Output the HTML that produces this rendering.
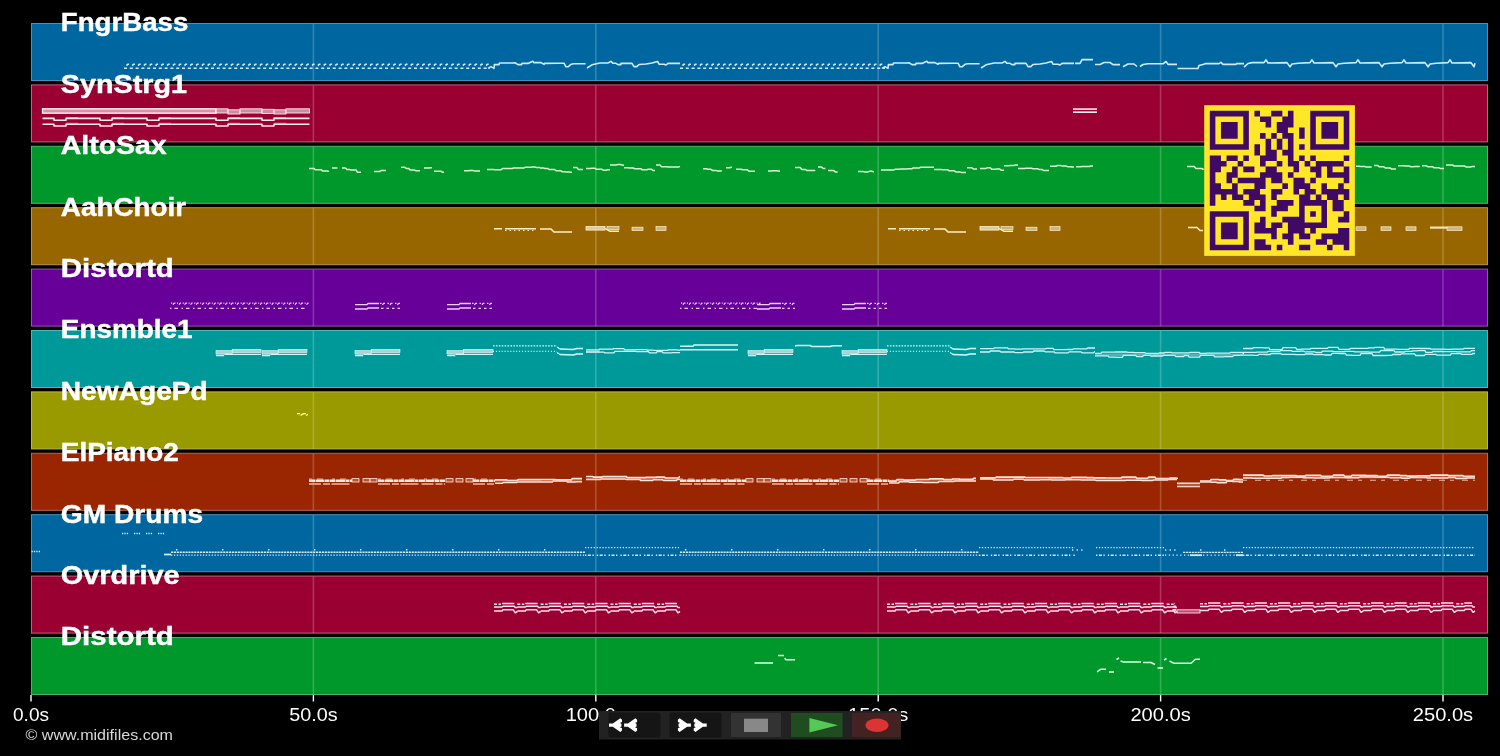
<!DOCTYPE html><html><head><meta charset="utf-8"><style>html,body{margin:0;padding:0;background:#000;width:1500px;height:756px;overflow:hidden}svg{display:block;will-change:transform}</style></head><body>
<svg width="1500" height="756" viewBox="0 0 1500 756">
<rect x="0" y="0" width="1500" height="756" fill="#000"/>
<rect x="31.5" y="23.50" width="1456" height="57" fill="#00669f" stroke="#4d8fba" stroke-width="1"/>
<rect x="312.60" y="24.00" width="1.6" height="56.4" fill="#fff" fill-opacity="0.2"/>
<rect x="595.00" y="24.00" width="1.6" height="56.4" fill="#fff" fill-opacity="0.2"/>
<rect x="877.40" y="24.00" width="1.6" height="56.4" fill="#fff" fill-opacity="0.2"/>
<rect x="1159.80" y="24.00" width="1.6" height="56.4" fill="#fff" fill-opacity="0.2"/>
<rect x="1442.20" y="24.00" width="1.6" height="56.4" fill="#fff" fill-opacity="0.2"/>
<rect x="31.5" y="84.90" width="1456" height="57" fill="#9b0033" stroke="#c0607f" stroke-width="1"/>
<rect x="312.60" y="85.40" width="1.6" height="56.4" fill="#fff" fill-opacity="0.2"/>
<rect x="595.00" y="85.40" width="1.6" height="56.4" fill="#fff" fill-opacity="0.2"/>
<rect x="877.40" y="85.40" width="1.6" height="56.4" fill="#fff" fill-opacity="0.2"/>
<rect x="1159.80" y="85.40" width="1.6" height="56.4" fill="#fff" fill-opacity="0.2"/>
<rect x="1442.20" y="85.40" width="1.6" height="56.4" fill="#fff" fill-opacity="0.2"/>
<rect x="31.5" y="146.30" width="1456" height="57" fill="#00982b" stroke="#4db46b" stroke-width="1"/>
<rect x="312.60" y="146.80" width="1.6" height="56.4" fill="#fff" fill-opacity="0.2"/>
<rect x="595.00" y="146.80" width="1.6" height="56.4" fill="#fff" fill-opacity="0.2"/>
<rect x="877.40" y="146.80" width="1.6" height="56.4" fill="#fff" fill-opacity="0.2"/>
<rect x="1159.80" y="146.80" width="1.6" height="56.4" fill="#fff" fill-opacity="0.2"/>
<rect x="1442.20" y="146.80" width="1.6" height="56.4" fill="#fff" fill-opacity="0.2"/>
<rect x="31.5" y="207.70" width="1456" height="57" fill="#986600" stroke="#b79447" stroke-width="1"/>
<rect x="312.60" y="208.20" width="1.6" height="56.4" fill="#fff" fill-opacity="0.2"/>
<rect x="595.00" y="208.20" width="1.6" height="56.4" fill="#fff" fill-opacity="0.2"/>
<rect x="877.40" y="208.20" width="1.6" height="56.4" fill="#fff" fill-opacity="0.2"/>
<rect x="1159.80" y="208.20" width="1.6" height="56.4" fill="#fff" fill-opacity="0.2"/>
<rect x="1442.20" y="208.20" width="1.6" height="56.4" fill="#fff" fill-opacity="0.2"/>
<rect x="31.5" y="269.10" width="1456" height="57" fill="#660099" stroke="#9650b8" stroke-width="1"/>
<rect x="312.60" y="269.60" width="1.6" height="56.4" fill="#fff" fill-opacity="0.2"/>
<rect x="595.00" y="269.60" width="1.6" height="56.4" fill="#fff" fill-opacity="0.2"/>
<rect x="877.40" y="269.60" width="1.6" height="56.4" fill="#fff" fill-opacity="0.2"/>
<rect x="1159.80" y="269.60" width="1.6" height="56.4" fill="#fff" fill-opacity="0.2"/>
<rect x="1442.20" y="269.60" width="1.6" height="56.4" fill="#fff" fill-opacity="0.2"/>
<rect x="31.5" y="330.50" width="1456" height="57" fill="#009999" stroke="#4db8b8" stroke-width="1"/>
<rect x="312.60" y="331.00" width="1.6" height="56.4" fill="#fff" fill-opacity="0.2"/>
<rect x="595.00" y="331.00" width="1.6" height="56.4" fill="#fff" fill-opacity="0.2"/>
<rect x="877.40" y="331.00" width="1.6" height="56.4" fill="#fff" fill-opacity="0.2"/>
<rect x="1159.80" y="331.00" width="1.6" height="56.4" fill="#fff" fill-opacity="0.2"/>
<rect x="1442.20" y="331.00" width="1.6" height="56.4" fill="#fff" fill-opacity="0.2"/>
<rect x="31.5" y="391.90" width="1456" height="57" fill="#999900" stroke="#b8b84d" stroke-width="1"/>
<rect x="312.60" y="392.40" width="1.6" height="56.4" fill="#fff" fill-opacity="0.2"/>
<rect x="595.00" y="392.40" width="1.6" height="56.4" fill="#fff" fill-opacity="0.2"/>
<rect x="877.40" y="392.40" width="1.6" height="56.4" fill="#fff" fill-opacity="0.2"/>
<rect x="1159.80" y="392.40" width="1.6" height="56.4" fill="#fff" fill-opacity="0.2"/>
<rect x="1442.20" y="392.40" width="1.6" height="56.4" fill="#fff" fill-opacity="0.2"/>
<rect x="31.5" y="453.30" width="1456" height="57" fill="#992600" stroke="#b8674d" stroke-width="1"/>
<rect x="312.60" y="453.80" width="1.6" height="56.4" fill="#fff" fill-opacity="0.2"/>
<rect x="595.00" y="453.80" width="1.6" height="56.4" fill="#fff" fill-opacity="0.2"/>
<rect x="877.40" y="453.80" width="1.6" height="56.4" fill="#fff" fill-opacity="0.2"/>
<rect x="1159.80" y="453.80" width="1.6" height="56.4" fill="#fff" fill-opacity="0.2"/>
<rect x="1442.20" y="453.80" width="1.6" height="56.4" fill="#fff" fill-opacity="0.2"/>
<rect x="31.5" y="514.70" width="1456" height="57" fill="#00669f" stroke="#4d8fba" stroke-width="1"/>
<rect x="312.60" y="515.20" width="1.6" height="56.4" fill="#fff" fill-opacity="0.2"/>
<rect x="595.00" y="515.20" width="1.6" height="56.4" fill="#fff" fill-opacity="0.2"/>
<rect x="877.40" y="515.20" width="1.6" height="56.4" fill="#fff" fill-opacity="0.2"/>
<rect x="1159.80" y="515.20" width="1.6" height="56.4" fill="#fff" fill-opacity="0.2"/>
<rect x="1442.20" y="515.20" width="1.6" height="56.4" fill="#fff" fill-opacity="0.2"/>
<rect x="31.5" y="576.10" width="1456" height="57" fill="#9b0033" stroke="#c0607f" stroke-width="1"/>
<rect x="312.60" y="576.60" width="1.6" height="56.4" fill="#fff" fill-opacity="0.2"/>
<rect x="595.00" y="576.60" width="1.6" height="56.4" fill="#fff" fill-opacity="0.2"/>
<rect x="877.40" y="576.60" width="1.6" height="56.4" fill="#fff" fill-opacity="0.2"/>
<rect x="1159.80" y="576.60" width="1.6" height="56.4" fill="#fff" fill-opacity="0.2"/>
<rect x="1442.20" y="576.60" width="1.6" height="56.4" fill="#fff" fill-opacity="0.2"/>
<rect x="31.5" y="637.50" width="1456" height="57" fill="#00982b" stroke="#4db46b" stroke-width="1"/>
<rect x="312.60" y="638.00" width="1.6" height="56.4" fill="#fff" fill-opacity="0.2"/>
<rect x="595.00" y="638.00" width="1.6" height="56.4" fill="#fff" fill-opacity="0.2"/>
<rect x="877.40" y="638.00" width="1.6" height="56.4" fill="#fff" fill-opacity="0.2"/>
<rect x="1159.80" y="638.00" width="1.6" height="56.4" fill="#fff" fill-opacity="0.2"/>
<rect x="1442.20" y="638.00" width="1.6" height="56.4" fill="#fff" fill-opacity="0.2"/>
<g>
<line x1="124" y1="68.3" x2="490" y2="68.3" stroke="#cfeaff" stroke-width="1.5" stroke-dasharray="3 2.8" stroke-dashoffset="0" stroke-opacity="1.0"/><path d="M126.5 65.6L127.7 64.3H129.1M132.3 65.6L133.5 64.3H134.9M138.1 65.6L139.3 64.3H140.7M143.9 65.6L145.1 64.3H146.5M149.7 65.6L150.9 64.3H152.3M155.5 65.6L156.7 64.3H158.1M161.3 65.6L162.5 64.3H163.9M167.1 65.6L168.3 64.3H169.7M172.9 65.6L174.1 64.3H175.5M178.7 65.6L179.9 64.3H181.3M184.5 65.6L185.7 64.3H187.1M190.3 65.6L191.5 64.3H192.9M196.1 65.6L197.3 64.3H198.7M201.9 65.6L203.1 64.3H204.5M207.7 65.6L208.9 64.3H210.3M213.5 65.6L214.7 64.3H216.1M219.3 65.6L220.5 64.3H221.9M225.1 65.6L226.3 64.3H227.7M230.9 65.6L232.1 64.3H233.5M236.7 65.6L237.9 64.3H239.3M242.5 65.6L243.7 64.3H245.1M248.3 65.6L249.5 64.3H250.9M254.1 65.6L255.3 64.3H256.7M259.9 65.6L261.1 64.3H262.5M265.7 65.6L266.9 64.3H268.3M271.5 65.6L272.7 64.3H274.1M277.3 65.6L278.5 64.3H279.9M283.1 65.6L284.3 64.3H285.7M288.9 65.6L290.1 64.3H291.5M294.7 65.6L295.9 64.3H297.3M300.5 65.6L301.7 64.3H303.1M306.3 65.6L307.5 64.3H308.9M312.1 65.6L313.3 64.3H314.7M317.9 65.6L319.1 64.3H320.5M323.7 65.6L324.9 64.3H326.3M329.5 65.6L330.7 64.3H332.1M335.3 65.6L336.5 64.3H337.9M341.1 65.6L342.3 64.3H343.7M346.9 65.6L348.1 64.3H349.5M352.7 65.6L353.9 64.3H355.3M358.5 65.6L359.7 64.3H361.1M364.3 65.6L365.5 64.3H366.9M370.1 65.6L371.3 64.3H372.7M375.9 65.6L377.1 64.3H378.5M381.7 65.6L382.9 64.3H384.3M387.5 65.6L388.7 64.3H390.1M393.3 65.6L394.5 64.3H395.9M399.1 65.6L400.3 64.3H401.7M404.9 65.6L406.1 64.3H407.5M410.7 65.6L411.9 64.3H413.3M416.5 65.6L417.7 64.3H419.1M422.3 65.6L423.5 64.3H424.9M428.1 65.6L429.3 64.3H430.7M433.9 65.6L435.1 64.3H436.5M439.7 65.6L440.9 64.3H442.3M445.5 65.6L446.7 64.3H448.1M451.3 65.6L452.5 64.3H453.9M457.1 65.6L458.3 64.3H459.7M462.9 65.6L464.1 64.3H465.5M468.7 65.6L469.9 64.3H471.3M474.5 65.6L475.7 64.3H477.1M480.3 65.6L481.5 64.3H482.9M486.1 65.6L487.3 64.3H488.7" stroke="#cfeaff" stroke-width="1.6" fill="none" stroke-opacity="1.0" stroke-linecap="butt" stroke-linejoin="round"/><line x1="680" y1="68.3" x2="885" y2="68.3" stroke="#cfeaff" stroke-width="1.5" stroke-dasharray="3 2.8" stroke-dashoffset="0" stroke-opacity="1.0"/><path d="M682.5 65.6L683.7 64.3H685.1M688.3 65.6L689.5 64.3H690.9M694.1 65.6L695.3 64.3H696.7M699.9 65.6L701.1 64.3H702.5M705.7 65.6L706.9 64.3H708.3M711.5 65.6L712.7 64.3H714.1M717.3 65.6L718.5 64.3H719.9M723.1 65.6L724.3 64.3H725.7M728.9 65.6L730.1 64.3H731.5M734.7 65.6L735.9 64.3H737.3M740.5 65.6L741.7 64.3H743.1M746.3 65.6L747.5 64.3H748.9M752.1 65.6L753.3 64.3H754.7M757.9 65.6L759.1 64.3H760.5M763.7 65.6L764.9 64.3H766.3M769.5 65.6L770.7 64.3H772.1M775.3 65.6L776.5 64.3H777.9M781.1 65.6L782.3 64.3H783.7M786.9 65.6L788.1 64.3H789.5M792.7 65.6L793.9 64.3H795.3M798.5 65.6L799.7 64.3H801.1M804.3 65.6L805.5 64.3H806.9M810.1 65.6L811.3 64.3H812.7M815.9 65.6L817.1 64.3H818.5M821.7 65.6L822.9 64.3H824.3M827.5 65.6L828.7 64.3H830.1M833.3 65.6L834.5 64.3H835.9M839.1 65.6L840.3 64.3H841.7M844.9 65.6L846.1 64.3H847.5M850.7 65.6L851.9 64.3H853.3M856.5 65.6L857.7 64.3H859.1M862.3 65.6L863.5 64.3H864.9M868.1 65.6L869.3 64.3H870.7M873.9 65.6L875.1 64.3H876.5M879.7 65.6L880.9 64.3H882.3" stroke="#cfeaff" stroke-width="1.6" fill="none" stroke-opacity="1.0" stroke-linecap="butt" stroke-linejoin="round"/><path d="M488 68.4L491 66.6L494 68.4L494.4 64.6L499 64.6L499.5 63L512 63L515 62.8L518 64.6L521.6 64.6L522 63.4L528 63.4L532.8 61.3L534 62.6L541 62.6L544 64.3L544.5 63.4L558 63.2L564 63.2L566 66.8L568 66.8L571 64.3L574 63.8L585.6 63.8" stroke="#cfeaff" stroke-width="1.6" fill="none" stroke-opacity="1.0" stroke-linecap="butt" stroke-linejoin="round"/><path d="M587 68L592 64.8L600 63L608 63L611 61.4L613 63.3L616 63.3L618 64.6L620.8 64.6L621 63.4L632 63.4L634 66.6L636.8 66.6L639 64.5L646 64L652 63L657.6 61.4L659 64.2L664 64.2L666 65L668 63.4L680 63.4" stroke="#cfeaff" stroke-width="1.6" fill="none" stroke-opacity="1.0" stroke-linecap="butt" stroke-linejoin="round"/><path d="M882 68.4L885 66.6L888 68.4L888.4 64.6L893 64.6L893.5 63L906 63L909 62.8L912 64.6L915.6 64.6L916 63.4L922 63.4L926.8 61.3L928 62.6L935 62.6L938 64.3L938.5 63.4L952 63.2L958 63.2L960 66.8L962 66.8L965 64.3L968 63.8L979.6 63.8" stroke="#cfeaff" stroke-width="1.6" fill="none" stroke-opacity="1.0" stroke-linecap="butt" stroke-linejoin="round"/><path d="M981 68L986 64.8L994 63L1002 63L1005 61.4L1007 63.3L1010 63.3L1012 64.6L1014.8 64.6L1015 63.4L1026 63.4L1028 66.6L1030.8 66.6L1033 64.5L1040 64L1046 63L1051.6 61.4L1053 64.2L1058 64.2L1060 65L1062 63.4L1074 63.4" stroke="#cfeaff" stroke-width="1.6" fill="none" stroke-opacity="1.0" stroke-linecap="butt" stroke-linejoin="round"/><path d="M1075 63.4L1080 63.4L1082 59.6L1093 59.6" stroke="#cfeaff" stroke-width="1.6" fill="none" stroke-opacity="1.0" stroke-linecap="butt" stroke-linejoin="round"/><path d="M1095 64.5L1100 64.5L1104 62.5L1110 62.5L1113 64.6L1120 64.6" stroke="#cfeaff" stroke-width="1.6" fill="none" stroke-opacity="1.0" stroke-linecap="butt" stroke-linejoin="round"/><path d="M1123 66.8L1128 64L1134 64L1137 66.5" stroke="#cfeaff" stroke-width="1.6" fill="none" stroke-opacity="1.0" stroke-linecap="butt" stroke-linejoin="round"/><path d="M1140 66.5L1143 64.5L1148 63.8L1163 63.8L1166 61.5L1168 64.4L1177 64.4" stroke="#cfeaff" stroke-width="1.6" fill="none" stroke-opacity="1.0" stroke-linecap="butt" stroke-linejoin="round"/><path d="M1177.5 68.5L1198 68.5L1199 65.5L1204 64.3L1205 63.6L1219 63.6L1221 62.4L1223 64.4L1236 64.4L1236.5 63.6L1244 63.6" stroke="#cfeaff" stroke-width="1.6" fill="none" stroke-opacity="1.0" stroke-linecap="butt" stroke-linejoin="round"/><path d="M1244 67.2L1248 63.5L1252 62.6L1264 62.6L1266 59.8L1268 63L1287 62.6L1290 66.8L1292 64L1298 63.2L1310 62.6L1312 59.8L1314 63L1333 62.6L1336 66.8L1338 64L1344 63.2L1356 62.6L1358 59.8L1360 63L1379 62.6L1382 66.8L1384 64L1390 63.2L1402 62.6L1404 59.8L1406 63L1425 62.6L1428 66.8L1430 64L1436 63.2L1448 62.6L1450 59.8L1452 63L1471 62.6L1474 66.8L1475 63.2" stroke="#cfeaff" stroke-width="1.6" fill="none" stroke-opacity="1.0" stroke-linecap="butt" stroke-linejoin="round"/><rect x="42.5" y="108.8" width="173.5" height="4.4" fill="#f0c0cc" fill-opacity="0.75" stroke="#ffffff" stroke-width="1.3"/><rect x="216" y="108.8" width="12" height="4.2" fill="#d8b0bc" fill-opacity="0.8" stroke="#ffe8ef" stroke-width="0.9"/><rect x="228" y="109.8" width="12" height="4.2" fill="#d8b0bc" fill-opacity="0.8" stroke="#ffe8ef" stroke-width="0.9"/><rect x="240" y="108.8" width="22" height="4.2" fill="#d8b0bc" fill-opacity="0.8" stroke="#ffe8ef" stroke-width="0.9"/><rect x="262" y="109.3" width="12" height="4.2" fill="#d8b0bc" fill-opacity="0.8" stroke="#ffe8ef" stroke-width="0.9"/><rect x="274" y="109.8" width="12" height="4.2" fill="#d8b0bc" fill-opacity="0.8" stroke="#ffe8ef" stroke-width="0.9"/><rect x="286" y="108.8" width="23.5" height="4.2" fill="#d8b0bc" fill-opacity="0.8" stroke="#ffe8ef" stroke-width="0.9"/><path d="M42.5 118.4L54 118.4L54 120.2L66 120.2L66 118.4L100 118.4L100 120.2L112 120.2L112 118.4L147 118.4L147 120.2L159 120.2L159 118.4L216 118.4L216 120.2L228 120.2L228 118.4L262 118.4L262 120.2L274 120.2L274 118.4L309.5 118.4" stroke="#ffe8ef" stroke-width="1.6" fill="none" stroke-opacity="1.0" stroke-linecap="butt" stroke-linejoin="round"/><path d="M66 117.5H78M112 117.5H124M159 117.5H171M228 117.5H240M274 117.5H286" stroke="#f0a8c0" stroke-width="0.9" fill="none" stroke-opacity="0.9" stroke-linecap="butt" stroke-linejoin="round"/><path d="M42.5 124.2L54 124.2L54 126L66 126L66 124.2L100 124.2L100 126L112 126L112 124.2L147 124.2L147 126L159 126L159 124.2L216 124.2L216 126L228 126L228 124.2L262 124.2L262 126L274 126L274 124.2L309.5 124.2" stroke="#ffe8ef" stroke-width="1.6" fill="none" stroke-opacity="1.0" stroke-linecap="butt" stroke-linejoin="round"/><path d="M66 123.3H78M112 123.3H124M159 123.3H171M228 123.3H240M274 123.3H286" stroke="#f0a8c0" stroke-width="0.9" fill="none" stroke-opacity="0.9" stroke-linecap="butt" stroke-linejoin="round"/><rect x="1073" y="108.3" width="24" height="1.6" fill="#ffe8ef" fill-opacity="1.0"/><rect x="1073" y="111.4" width="24" height="1.6" fill="#ffe8ef" fill-opacity="1.0"/><path d="M309 168.4L313.8 168.4L315.3 169.8L321.3 169.8L322.8 171.1L327 171.1L328.5 171.2L328 171.2" stroke="#d8f5d0" stroke-width="1.5" fill="none" stroke-opacity="1.0" stroke-linecap="butt" stroke-linejoin="round"/><path d="M332 168L337.5 168" stroke="#d8f5d0" stroke-width="1.5" fill="none" stroke-opacity="1.0" stroke-linecap="butt" stroke-linejoin="round"/><path d="M342 168L345.4 168L346.9 169.6L349.5 169.6L351 169.9L356 169.9L357.5 172.3L361 172.3" stroke="#d8f5d0" stroke-width="1.5" fill="none" stroke-opacity="1.0" stroke-linecap="butt" stroke-linejoin="round"/><path d="M374 171.5L379.6 171.5L381.1 170.6L384 170.6L385.5 170.6L386 170.6" stroke="#d8f5d0" stroke-width="1.5" fill="none" stroke-opacity="1.0" stroke-linecap="butt" stroke-linejoin="round"/><path d="M401 167.3L404.8 167.3L406.3 168.4L408.6 168.4L410.1 169.9L414.1 169.9L415.6 170.7L420 170.7" stroke="#d8f5d0" stroke-width="1.5" fill="none" stroke-opacity="1.0" stroke-linecap="butt" stroke-linejoin="round"/><path d="M424 168L429 168L430.5 167.7L432 167.7" stroke="#d8f5d0" stroke-width="1.5" fill="none" stroke-opacity="1.0" stroke-linecap="butt" stroke-linejoin="round"/><path d="M434 171.2L441 171.2L442.5 172.3L444 172.3" stroke="#d8f5d0" stroke-width="1.5" fill="none" stroke-opacity="1.0" stroke-linecap="butt" stroke-linejoin="round"/><path d="M464 170.8L468.3 170.8L469.8 170.6L473.2 170.6L474.7 171.1L480 171.1" stroke="#d8f5d0" stroke-width="1.5" fill="none" stroke-opacity="1.0" stroke-linecap="butt" stroke-linejoin="round"/><path d="M487 169.5L493.4 169.5L494.9 169.7L501 169.7L502.5 168.6L504.7 168.6L506.2 168.5L512.1 168.5L513.6 168L519.8 168L521.3 168.1L523.8 168.1L525.3 167.2L530.7 167.2L532.2 167.1L534.8 167.1L536.3 167.4L540 167.4" stroke="#d8f5d0" stroke-width="1.5" fill="none" stroke-opacity="1.0" stroke-linecap="butt" stroke-linejoin="round"/><path d="M540 168.1L543.5 168.1L545 168.4L547.6 168.4L549.1 169.5L554.6 169.5L556.1 170.7L560.6 170.7L562.1 171.7L565.1 171.7L566.6 172.1L569.3 172.1L570.8 172.2L572 172.2" stroke="#d8f5d0" stroke-width="1.5" fill="none" stroke-opacity="1.0" stroke-linecap="butt" stroke-linejoin="round"/><path d="M573 167.6L576.9 167.6L578.4 169.4L583 169.4" stroke="#d8f5d0" stroke-width="1.5" fill="none" stroke-opacity="1.0" stroke-linecap="butt" stroke-linejoin="round"/><path d="M586 168.4L590.2 168.4L591.7 168.2L594.8 168.2L596.3 169.3L602 169.3L603.5 170.3L606.1 170.3L607.6 169.7L610 169.7" stroke="#d8f5d0" stroke-width="1.5" fill="none" stroke-opacity="1.0" stroke-linecap="butt" stroke-linejoin="round"/><path d="M610 165L616.1 165L617.6 164.6L621 164.6L622.5 165.3L624 165.3" stroke="#d8f5d0" stroke-width="1.5" fill="none" stroke-opacity="1.0" stroke-linecap="butt" stroke-linejoin="round"/><path d="M624 167.8L628 167.8L629.5 168L633.2 168L634.7 168.7L640.8 168.7L642.3 169.8L646.8 169.8L648.3 169.2L651.3 169.2L652.8 170.4L655 170.4" stroke="#d8f5d0" stroke-width="1.5" fill="none" stroke-opacity="1.0" stroke-linecap="butt" stroke-linejoin="round"/><path d="M656 165.1L660 165.1L661.5 166.7L666.7 166.7L668.2 167L671.2 167L672.7 167L678.5 167L680 166.4L680 166.4" stroke="#d8f5d0" stroke-width="1.5" fill="none" stroke-opacity="1.0" stroke-linecap="butt" stroke-linejoin="round"/><path d="M703 168.7L706.2 168.7L707.7 169.3L710.9 169.3L712.4 170.4L715.6 170.4L717.1 170.9L721.8 170.9" stroke="#d8f5d0" stroke-width="1.5" fill="none" stroke-opacity="1.0" stroke-linecap="butt" stroke-linejoin="round"/><path d="M726 167.8L729.7 167.8L731.2 167.2L732 167.2" stroke="#d8f5d0" stroke-width="1.5" fill="none" stroke-opacity="1.0" stroke-linecap="butt" stroke-linejoin="round"/><path d="M736 169.2L741.2 169.2L742.7 169.7L747.4 169.7L748.9 171.2L754.9 171.2" stroke="#d8f5d0" stroke-width="1.5" fill="none" stroke-opacity="1.0" stroke-linecap="butt" stroke-linejoin="round"/><path d="M768 171.1L771.1 171.1L772.6 170.7L776.6 170.7L778.1 171L780 171" stroke="#d8f5d0" stroke-width="1.5" fill="none" stroke-opacity="1.0" stroke-linecap="butt" stroke-linejoin="round"/><path d="M795 167.5L800.3 167.5L801.8 169.5L805.5 169.5L807 170.6L813.2 170.6L814.7 170.6L814 170.6" stroke="#d8f5d0" stroke-width="1.5" fill="none" stroke-opacity="1.0" stroke-linecap="butt" stroke-linejoin="round"/><path d="M818 167L821.6 167L823.1 168.5L825.4 168.5" stroke="#d8f5d0" stroke-width="1.5" fill="none" stroke-opacity="1.0" stroke-linecap="butt" stroke-linejoin="round"/><path d="M828 170.6L833.8 170.6L835.3 172L837.6 172" stroke="#d8f5d0" stroke-width="1.5" fill="none" stroke-opacity="1.0" stroke-linecap="butt" stroke-linejoin="round"/><path d="M858 171.5L862.9 171.5L864.4 171.9L868 171.9L869.5 171.3L872 171.3L873.5 171.8L874 171.8" stroke="#d8f5d0" stroke-width="1.5" fill="none" stroke-opacity="1.0" stroke-linecap="butt" stroke-linejoin="round"/><path d="M881 169.9L886.9 169.9L888.4 169.9L893.9 169.9L895.4 169.2L899 169.2L900.5 169.1L906.4 169.1L907.9 168.7L911.8 168.7L913.3 168L919 168L920.5 167.3L925.3 167.3L926.8 167.3L931.3 167.3L932.8 167.2L934 167.2" stroke="#d8f5d0" stroke-width="1.5" fill="none" stroke-opacity="1.0" stroke-linecap="butt" stroke-linejoin="round"/><path d="M934 169.5L941 169.5L942.5 169.7L947.6 169.7L949.1 170.8L954.3 170.8L955.8 171.9L959.8 171.9L961.3 172.4L963.9 172.4L965.4 172.4L966 172.4" stroke="#d8f5d0" stroke-width="1.5" fill="none" stroke-opacity="1.0" stroke-linecap="butt" stroke-linejoin="round"/><path d="M967 167.8L971.9 167.8L973.4 169L977 169" stroke="#d8f5d0" stroke-width="1.5" fill="none" stroke-opacity="1.0" stroke-linecap="butt" stroke-linejoin="round"/><path d="M980 168.6L985.5 168.6L987 167.8L990.2 167.8L991.7 169.3L995.2 169.3L996.7 169.1L999.7 169.1L1001.2 170.2L1004 170.2" stroke="#d8f5d0" stroke-width="1.5" fill="none" stroke-opacity="1.0" stroke-linecap="butt" stroke-linejoin="round"/><path d="M1004 165.7L1008.8 165.7L1010.3 165.4L1013.8 165.4L1015.3 165.1L1018 165.1" stroke="#d8f5d0" stroke-width="1.5" fill="none" stroke-opacity="1.0" stroke-linecap="butt" stroke-linejoin="round"/><path d="M1018 168.4L1024.2 168.4L1025.7 168.3L1031.5 168.3L1033 168.7L1037.6 168.7L1039.1 169.4L1041.9 169.4L1043.4 170.5L1049 170.5" stroke="#d8f5d0" stroke-width="1.5" fill="none" stroke-opacity="1.0" stroke-linecap="butt" stroke-linejoin="round"/><path d="M1050 166.3L1055.8 166.3L1057.3 165.6L1060.7 165.6L1062.2 166.1L1066.3 166.1L1067.8 166.7L1070.9 166.7L1072.4 167L1074 167" stroke="#d8f5d0" stroke-width="1.5" fill="none" stroke-opacity="1.0" stroke-linecap="butt" stroke-linejoin="round"/><path d="M1076 166.7L1080.6 166.7L1082.1 166.6L1089.2 166.6L1090.7 165.9L1093 165.9" stroke="#d8f5d0" stroke-width="1.5" fill="none" stroke-opacity="1.0" stroke-linecap="butt" stroke-linejoin="round"/><path d="M1187 166.6L1194.4 166.6L1195.9 168.5L1201.7 168.5L1203.2 169.2L1203 169.2" stroke="#d8f5d0" stroke-width="1.5" fill="none" stroke-opacity="1.0" stroke-linecap="butt" stroke-linejoin="round"/><path d="M1356 166.2L1359.1 166.2L1360.6 166.4L1364.6 166.4L1366.1 167.1L1371.7 167.1" stroke="#d8f5d0" stroke-width="1.5" fill="none" stroke-opacity="1.0" stroke-linecap="butt" stroke-linejoin="round"/><path d="M1374 165.4L1377.6 165.4L1379.1 166.8L1383.8 166.8L1385.3 167.9L1390.1 167.9L1391.6 169.1L1396 169.1" stroke="#d8f5d0" stroke-width="1.5" fill="none" stroke-opacity="1.0" stroke-linecap="butt" stroke-linejoin="round"/><path d="M1398 165.8L1403.7 165.8L1405.2 166.1L1409.4 166.1L1410.9 166.7L1413.2 166.7L1414.7 166.5L1419.8 166.5" stroke="#d8f5d0" stroke-width="1.5" fill="none" stroke-opacity="1.0" stroke-linecap="butt" stroke-linejoin="round"/><path d="M1422 165.7L1426.1 165.7L1427.6 166.7L1432.6 166.7L1434.1 167.8L1438.8 167.8L1440.3 168.4L1444 168.4" stroke="#d8f5d0" stroke-width="1.5" fill="none" stroke-opacity="1.0" stroke-linecap="butt" stroke-linejoin="round"/><path d="M1446 164.9L1452.6 164.9L1454.1 166.1L1460.1 166.1L1461.6 166L1464.4 166L1465.9 166.9L1470.6 166.9L1472.1 166.6L1475 166.6" stroke="#d8f5d0" stroke-width="1.5" fill="none" stroke-opacity="1.0" stroke-linecap="butt" stroke-linejoin="round"/><path d="M494 228.7H502M505 228.7H536" stroke="#fff0c8" stroke-width="1.4" fill="none" stroke-opacity="1.0" stroke-linecap="butt" stroke-linejoin="round"/><line x1="505" y1="230.5" x2="536" y2="230.5" stroke="#fff0c8" stroke-width="1.0" stroke-dasharray="1.5 3" stroke-dashoffset="0" stroke-opacity="1.0"/><path d="M540 229L551 229L554 232L572 232" stroke="#fff0c8" stroke-width="1.6" fill="none" stroke-opacity="1.0" stroke-linecap="butt" stroke-linejoin="round"/><rect x="586" y="226.5" width="19" height="3.6" fill="#e8dcc0" fill-opacity="0.85" stroke="#fff0c8" stroke-width="0.8"/><path d="M605 228.5L610 231.3L619 231.3" stroke="#fff0c8" stroke-width="1.4" fill="none" stroke-opacity="1.0" stroke-linecap="butt" stroke-linejoin="round"/><rect x="607" y="226.6" width="12" height="3" fill="#e0d0b0" fill-opacity="0.7" stroke="#fff0c8" stroke-width="0.7"/><rect x="632" y="227.2" width="11" height="3.3" fill="#e0d0b0" fill-opacity="0.75" stroke="#fff0c8" stroke-width="0.7"/><rect x="656" y="226.6" width="10" height="3.8" fill="#e0d0b0" fill-opacity="0.75" stroke="#fff0c8" stroke-width="0.7"/><path d="M888 228.7H896M899 228.7H930" stroke="#fff0c8" stroke-width="1.4" fill="none" stroke-opacity="1.0" stroke-linecap="butt" stroke-linejoin="round"/><line x1="899" y1="230.5" x2="930" y2="230.5" stroke="#fff0c8" stroke-width="1.0" stroke-dasharray="1.5 3" stroke-dashoffset="0" stroke-opacity="1.0"/><path d="M934 229L945 229L948 232L966 232" stroke="#fff0c8" stroke-width="1.6" fill="none" stroke-opacity="1.0" stroke-linecap="butt" stroke-linejoin="round"/><rect x="980" y="226.5" width="19" height="3.6" fill="#e8dcc0" fill-opacity="0.85" stroke="#fff0c8" stroke-width="0.8"/><path d="M999 228.5L1004 231.3L1013 231.3" stroke="#fff0c8" stroke-width="1.4" fill="none" stroke-opacity="1.0" stroke-linecap="butt" stroke-linejoin="round"/><rect x="1001" y="226.6" width="12" height="3" fill="#e0d0b0" fill-opacity="0.7" stroke="#fff0c8" stroke-width="0.7"/><rect x="1026" y="227.2" width="11" height="3.3" fill="#e0d0b0" fill-opacity="0.75" stroke="#fff0c8" stroke-width="0.7"/><rect x="1050" y="226.6" width="10" height="3.8" fill="#e0d0b0" fill-opacity="0.75" stroke="#fff0c8" stroke-width="0.7"/><path d="M1188 227.5L1197 227.5L1200 230.5L1203 230.5" stroke="#fff0c8" stroke-width="1.4" fill="none" stroke-opacity="1.0" stroke-linecap="butt" stroke-linejoin="round"/><rect x="1356" y="226.8" width="10" height="3.6" fill="#e0d0b0" fill-opacity="0.75" stroke="#fff0c8" stroke-width="0.7"/><rect x="1381" y="226.8" width="10" height="3.6" fill="#e0d0b0" fill-opacity="0.75" stroke="#fff0c8" stroke-width="0.7"/><rect x="1406" y="226.8" width="10" height="3.6" fill="#e0d0b0" fill-opacity="0.75" stroke="#fff0c8" stroke-width="0.7"/><rect x="1430" y="226.5" width="17" height="2.2" fill="#fff0c8" fill-opacity="0.9"/><rect x="1447" y="226.8" width="15" height="3.6" fill="#e0d0b0" fill-opacity="0.75" stroke="#fff0c8" stroke-width="0.7"/><line x1="170" y1="308.3" x2="308" y2="308.3" stroke="#f0d0ff" stroke-width="1.3" stroke-dasharray="1.5 3 3.5 3.5" stroke-dashoffset="0" stroke-opacity="1.0"/><path d="M171 303.2H172.2M173 304.8L174 303.2H175.5M177 303.2H178M179 304.8L180 303.2H181M182.6 303.2H183.8M184.6 304.8L185.6 303.2H187.1M188.6 303.2H189.6M190.6 304.8L191.6 303.2H192.6M194.2 303.2H195.4M196.2 304.8L197.2 303.2H198.7M200.2 303.2H201.2M202.2 304.8L203.2 303.2H204.2M205.8 303.2H207M207.8 304.8L208.8 303.2H210.3M211.8 303.2H212.8M213.8 304.8L214.8 303.2H215.8M217.4 303.2H218.6M219.4 304.8L220.4 303.2H221.9M223.4 303.2H224.4M225.4 304.8L226.4 303.2H227.4M229 303.2H230.2M231 304.8L232 303.2H233.5M235 303.2H236M237 304.8L238 303.2H239M240.6 303.2H241.8M242.6 304.8L243.6 303.2H245.1M246.6 303.2H247.6M248.6 304.8L249.6 303.2H250.6M252.2 303.2H253.4M254.2 304.8L255.2 303.2H256.7M258.2 303.2H259.2M260.2 304.8L261.2 303.2H262.2M263.8 303.2H265M265.8 304.8L266.8 303.2H268.3M269.8 303.2H270.8M271.8 304.8L272.8 303.2H273.8M275.4 303.2H276.6M277.4 304.8L278.4 303.2H279.9M281.4 303.2H282.4M283.4 304.8L284.4 303.2H285.4M287 303.2H288.2M289 304.8L290 303.2H291.5M293 303.2H294M295 304.8L296 303.2H297M298.6 303.2H299.8M300.6 304.8L301.6 303.2H303.1M304.6 303.2H305.6M306.6 304.8L307.6 303.2H308.6" stroke="#f0d0ff" stroke-width="1.2" fill="none" stroke-opacity="1.0" stroke-linecap="butt" stroke-linejoin="round"/><line x1="680" y1="308.3" x2="757" y2="308.3" stroke="#f0d0ff" stroke-width="1.3" stroke-dasharray="1.5 3 3.5 3.5" stroke-dashoffset="0" stroke-opacity="1.0"/><path d="M681 303.2H682.2M683 304.8L684 303.2H685.5M687 303.2H688M689 304.8L690 303.2H691M692.6 303.2H693.8M694.6 304.8L695.6 303.2H697.1M698.6 303.2H699.6M700.6 304.8L701.6 303.2H702.6M704.2 303.2H705.4M706.2 304.8L707.2 303.2H708.7M710.2 303.2H711.2M712.2 304.8L713.2 303.2H714.2M715.8 303.2H717M717.8 304.8L718.8 303.2H720.3M721.8 303.2H722.8M723.8 304.8L724.8 303.2H725.8M727.4 303.2H728.6M729.4 304.8L730.4 303.2H731.9M733.4 303.2H734.4M735.4 304.8L736.4 303.2H737.4M739 303.2H740.2M741 304.8L742 303.2H743.5M745 303.2H746M747 304.8L748 303.2H749M750.6 303.2H751.8M752.6 304.8L753.6 303.2H755.1M756.6 303.2H757.6M758.6 304.8L759.6 303.2H760.6" stroke="#f0d0ff" stroke-width="1.2" fill="none" stroke-opacity="1.0" stroke-linecap="butt" stroke-linejoin="round"/><path d="M355 304.6H367L368 303.5H379" stroke="#f0d0ff" stroke-width="1.3" fill="none" stroke-opacity="1.0" stroke-linecap="butt" stroke-linejoin="round"/><path d="M355 309H367L368 308H379" stroke="#f0d0ff" stroke-width="1.3" fill="none" stroke-opacity="1.0" stroke-linecap="butt" stroke-linejoin="round"/><path d="M380 303.4H381.5M382.5 305L383.5 303.4H385M387.5 303.4H389M390 305L391 303.4H392.5M395 303.4H396.5M397.5 305L398.5 303.4H400" stroke="#f0d0ff" stroke-width="1.2" fill="none" stroke-opacity="1.0" stroke-linecap="butt" stroke-linejoin="round"/><line x1="381" y1="308.4" x2="402" y2="308.4" stroke="#f0d0ff" stroke-width="1.3" stroke-dasharray="2.5 3" stroke-dashoffset="0" stroke-opacity="1.0"/><path d="M447 304.6H459L460 303.5H471" stroke="#f0d0ff" stroke-width="1.3" fill="none" stroke-opacity="1.0" stroke-linecap="butt" stroke-linejoin="round"/><path d="M447 309H459L460 308H471" stroke="#f0d0ff" stroke-width="1.3" fill="none" stroke-opacity="1.0" stroke-linecap="butt" stroke-linejoin="round"/><path d="M472 303.4H473.5M474.5 305L475.5 303.4H477M479.5 303.4H481M482 305L483 303.4H484.5M487 303.4H488.5M489.5 305L490.5 303.4H492" stroke="#f0d0ff" stroke-width="1.2" fill="none" stroke-opacity="1.0" stroke-linecap="butt" stroke-linejoin="round"/><line x1="473" y1="308.4" x2="494" y2="308.4" stroke="#f0d0ff" stroke-width="1.3" stroke-dasharray="2.5 3" stroke-dashoffset="0" stroke-opacity="1.0"/><path d="M757 304.6H769L770 303.5H781" stroke="#f0d0ff" stroke-width="1.3" fill="none" stroke-opacity="1.0" stroke-linecap="butt" stroke-linejoin="round"/><path d="M757 309H769L770 308H781" stroke="#f0d0ff" stroke-width="1.3" fill="none" stroke-opacity="1.0" stroke-linecap="butt" stroke-linejoin="round"/><path d="M842 304.6H854L855 303.5H866" stroke="#f0d0ff" stroke-width="1.3" fill="none" stroke-opacity="1.0" stroke-linecap="butt" stroke-linejoin="round"/><path d="M842 309H854L855 308H866" stroke="#f0d0ff" stroke-width="1.3" fill="none" stroke-opacity="1.0" stroke-linecap="butt" stroke-linejoin="round"/><path d="M867 303.4H868.5M869.5 305L870.5 303.4H872M874.5 303.4H876M877 305L878 303.4H879.5M882 303.4H883.5M884.5 305L885.5 303.4H887" stroke="#f0d0ff" stroke-width="1.2" fill="none" stroke-opacity="1.0" stroke-linecap="butt" stroke-linejoin="round"/><line x1="868" y1="308.4" x2="889" y2="308.4" stroke="#f0d0ff" stroke-width="1.3" stroke-dasharray="2.5 3" stroke-dashoffset="0" stroke-opacity="1.0"/><path d="M782 303.4H783.5M784.5 305L785.5 303.4H787M789.5 303.4H791M792 305L793 303.4H794.5" stroke="#f0d0ff" stroke-width="1.2" fill="none" stroke-opacity="1.0" stroke-linecap="butt" stroke-linejoin="round"/><line x1="782" y1="308.4" x2="795" y2="308.4" stroke="#f0d0ff" stroke-width="1.3" stroke-dasharray="2.5 3" stroke-dashoffset="0" stroke-opacity="1.0"/><rect x="216" y="350.5" width="16.2" height="3.6" fill="#c8dcdc" fill-opacity="0.85" stroke="#d8f8ff" stroke-width="0.6"/><rect x="232.2" y="349.3" width="28.8" height="3.4" fill="#c8dcdc" fill-opacity="0.85" stroke="#d8f8ff" stroke-width="0.6"/><path d="M216 355.5H224.1M224.6 354.3H261" stroke="#d8f8ff" stroke-width="1.3" fill="none" stroke-opacity="1.0" stroke-linecap="butt" stroke-linejoin="round"/><rect x="262" y="350.5" width="16.2" height="3.6" fill="#c8dcdc" fill-opacity="0.85" stroke="#d8f8ff" stroke-width="0.6"/><rect x="278.2" y="349.3" width="28.8" height="3.4" fill="#c8dcdc" fill-opacity="0.85" stroke="#d8f8ff" stroke-width="0.6"/><path d="M262 355.5H270.1M270.6 354.3H307" stroke="#d8f8ff" stroke-width="1.3" fill="none" stroke-opacity="1.0" stroke-linecap="butt" stroke-linejoin="round"/><rect x="355" y="350.5" width="16.2" height="3.6" fill="#c8dcdc" fill-opacity="0.85" stroke="#d8f8ff" stroke-width="0.6"/><rect x="371.2" y="349.3" width="28.8" height="3.4" fill="#c8dcdc" fill-opacity="0.85" stroke="#d8f8ff" stroke-width="0.6"/><path d="M355 355.5H363.1M363.6 354.3H400" stroke="#d8f8ff" stroke-width="1.3" fill="none" stroke-opacity="1.0" stroke-linecap="butt" stroke-linejoin="round"/><rect x="447" y="350.5" width="16.6" height="3.6" fill="#c8dcdc" fill-opacity="0.85" stroke="#d8f8ff" stroke-width="0.6"/><rect x="463.6" y="349.3" width="29.4" height="3.4" fill="#c8dcdc" fill-opacity="0.85" stroke="#d8f8ff" stroke-width="0.6"/><path d="M447 355.5H455.3M455.7 354.3H493" stroke="#d8f8ff" stroke-width="1.3" fill="none" stroke-opacity="1.0" stroke-linecap="butt" stroke-linejoin="round"/><rect x="748" y="350.5" width="16.2" height="3.6" fill="#c8dcdc" fill-opacity="0.85" stroke="#d8f8ff" stroke-width="0.6"/><rect x="764.2" y="349.3" width="28.8" height="3.4" fill="#c8dcdc" fill-opacity="0.85" stroke="#d8f8ff" stroke-width="0.6"/><path d="M748 355.5H756.1M756.5 354.3H793" stroke="#d8f8ff" stroke-width="1.3" fill="none" stroke-opacity="1.0" stroke-linecap="butt" stroke-linejoin="round"/><rect x="842" y="350.5" width="16.2" height="3.6" fill="#c8dcdc" fill-opacity="0.85" stroke="#d8f8ff" stroke-width="0.6"/><rect x="858.2" y="349.3" width="28.8" height="3.4" fill="#c8dcdc" fill-opacity="0.85" stroke="#d8f8ff" stroke-width="0.6"/><path d="M842 355.5H850.1M850.5 354.3H887" stroke="#d8f8ff" stroke-width="1.3" fill="none" stroke-opacity="1.0" stroke-linecap="butt" stroke-linejoin="round"/><line x1="493" y1="345.8" x2="557" y2="345.8" stroke="#d8f8ff" stroke-width="1.3" stroke-dasharray="1.6 1.3" stroke-dashoffset="0" stroke-opacity="1.0"/><line x1="493" y1="351.4" x2="557" y2="351.4" stroke="#d8f8ff" stroke-width="1.1" stroke-dasharray="1.0 1.9" stroke-dashoffset="0" stroke-opacity="1.0"/><path d="M557 347L560 349L573 349.5L577 348.5L583 348.5" stroke="#d8f8ff" stroke-width="1.3" fill="none" stroke-opacity="1.0" stroke-linecap="butt" stroke-linejoin="round"/><path d="M557 352.5L560 354.5L573 355L577 354L583 354" stroke="#d8f8ff" stroke-width="1.3" fill="none" stroke-opacity="1.0" stroke-linecap="butt" stroke-linejoin="round"/><line x1="887" y1="345.8" x2="950" y2="345.8" stroke="#d8f8ff" stroke-width="1.3" stroke-dasharray="1.6 1.3" stroke-dashoffset="0" stroke-opacity="1.0"/><line x1="887" y1="351.4" x2="950" y2="351.4" stroke="#d8f8ff" stroke-width="1.1" stroke-dasharray="1.0 1.9" stroke-dashoffset="0" stroke-opacity="1.0"/><path d="M950 347L953 349L966 349.5L970 348.5L976 348.5" stroke="#d8f8ff" stroke-width="1.3" fill="none" stroke-opacity="1.0" stroke-linecap="butt" stroke-linejoin="round"/><path d="M950 352.5L953 354.5L966 355L970 354L976 354" stroke="#d8f8ff" stroke-width="1.3" fill="none" stroke-opacity="1.0" stroke-linecap="butt" stroke-linejoin="round"/><path d="M586 349.9L598.8 349.9L599.8 349.1L612.7 349.1L613.7 348.6L623.7 348.6L624.7 349.9L635.5 349.9L636.5 349.7L646.4 349.7L647.4 350.1L653 350.1L654 350.3L667.3 350.3L668.3 349.8L677.2 349.8L678.2 350.1L680 350.1" stroke="#d8f8ff" stroke-width="1.3" fill="none" stroke-opacity="0.95" stroke-linecap="butt" stroke-linejoin="round"/><path d="M586 352L598.6 352L599.6 352.2L603.9 352.2L604.9 352.9L613.9 352.9L614.9 351.3L623.3 351.3L624.3 351.3L635.9 351.3L636.9 351.6L648.4 351.6L649.4 352.9L656.2 352.9L657.2 351.5L662.1 351.5L663.1 352.8L671.8 352.8L672.8 352.7L680 352.7" stroke="#d8f8ff" stroke-width="1.3" fill="none" stroke-opacity="0.95" stroke-linecap="butt" stroke-linejoin="round"/><rect x="586" y="350.5" width="14" height="2.5" fill="#c8dcdc" fill-opacity="0.6"/><path d="M680 346.3H693L694 345H738M680 349.7H738" stroke="#d8f8ff" stroke-width="1.4" fill="none" stroke-opacity="1.0" stroke-linecap="butt" stroke-linejoin="round"/><path d="M795 346L797 345.5H810L812 346.5H830L833 345.8H842" stroke="#d8f8ff" stroke-width="1.4" fill="none" stroke-opacity="1.0" stroke-linecap="butt" stroke-linejoin="round"/><path d="M980 348.7L993.5 348.7L994.5 347.8L1007.4 347.8L1008.4 348.8L1014.2 348.8L1015.2 349.2L1021.6 349.2L1022.6 348.8L1032.5 348.8L1033.5 348.8L1045.4 348.8L1046.4 348.4L1053 348.4L1054 349.6L1066 349.6L1067 349.5L1072.5 349.5L1073.5 348.8L1086.7 348.8L1087.7 348L1095 348" stroke="#d8f8ff" stroke-width="1.3" fill="none" stroke-opacity="0.95" stroke-linecap="butt" stroke-linejoin="round"/><path d="M980 352L989.4 352L990.4 351L999.9 351L1000.9 352L1014.1 352L1015.1 352.7L1022.6 352.7L1023.6 352L1032.7 352L1033.7 351L1044.1 351L1045.1 351.8L1054 351.8L1055 352.9L1068.1 352.9L1069.1 351.9L1075.3 351.9L1076.3 351.9L1081.1 351.9L1082.1 352.9L1093.7 352.9L1094.7 351.6L1095 351.6" stroke="#d8f8ff" stroke-width="1.3" fill="none" stroke-opacity="0.95" stroke-linecap="butt" stroke-linejoin="round"/><path d="M1095 353.3L1100.9 353.3L1101.9 352.2L1114.7 352.2L1115.7 352L1127 352L1128 352.4L1133.4 352.4L1134.4 352.6L1144.8 352.6L1145.8 353.3L1152.8 353.3L1153.8 353.5L1158.4 353.5L1159.4 353L1164.1 353L1165.1 352.3L1171.1 352.3L1172.1 352.9L1180.9 352.9L1181.9 352.8L1189.2 352.8L1190.2 352.3L1199 352.3L1200 353.3L1205.5 353.3L1206.5 353.1L1216.4 353.1L1217.4 353.2L1229.4 353.2L1230.4 352.4L1242.5 352.4L1243.5 353.7L1243 353.7" stroke="#d8f8ff" stroke-width="1.3" fill="none" stroke-opacity="0.95" stroke-linecap="butt" stroke-linejoin="round"/><path d="M1095 355.8L1108 355.8L1109 357.1L1115.7 357.1L1116.7 357.3L1122.4 357.3L1123.4 355.4L1135.7 355.4L1136.7 356.7L1142.6 356.7L1143.6 355.3L1149.7 355.3L1150.7 356L1162.5 356L1163.5 355.4L1174.9 355.4L1175.9 356.6L1183.5 356.6L1184.5 355.5L1188.1 355.5L1189.1 357.1L1199.5 357.1L1200.5 355.4L1213.7 355.4L1214.7 356.8L1223.2 356.8L1224.2 356.6L1232.7 356.6L1233.7 355.3L1239.1 355.3L1240.1 355.2L1243 355.2" stroke="#d8f8ff" stroke-width="1.3" fill="none" stroke-opacity="0.95" stroke-linecap="butt" stroke-linejoin="round"/><rect x="1095" y="353.6" width="148" height="2.2" fill="#c8dcdc" fill-opacity="0.45"/><path d="M1243 348.5L1252.5 348.5L1253.5 347.7L1262.7 347.7L1263.7 347.8L1269 347.8L1270 349.6L1282 349.6L1283 347.6L1295.7 347.6L1296.7 349.5L1300.8 349.5L1301.8 349.1L1310 349.1L1311 348.4L1317.7 348.4L1318.7 348.3L1327.4 348.3L1328.4 347.4L1337.9 347.4L1338.9 349.3L1349.4 349.3L1350.4 348.4L1355.7 348.4L1356.7 348.3L1367.6 348.3L1368.6 347.8L1374.1 347.8L1375.1 347.4L1383.7 347.4L1384.7 349.2L1397.1 349.2L1398.1 349.3L1408.7 349.3L1409.7 348.3L1419.5 348.3L1420.5 348.5L1430 348.5L1431 349.2L1444.3 349.2L1445.3 349.4L1451.4 349.4L1452.4 349.1L1463.3 349.1L1464.3 348.3L1475 348.3" stroke="#d8f8ff" stroke-width="1.3" fill="none" stroke-opacity="0.95" stroke-linecap="butt" stroke-linejoin="round"/><path d="M1243 352.3L1256 352.3L1257 352.1L1267.4 352.1L1268.4 351.3L1279.6 351.3L1280.6 350.6L1291.3 350.6L1292.3 351.4L1299.2 351.4L1300.2 351.2L1303.8 351.2L1304.8 351.8L1314.7 351.8L1315.7 352.5L1321.5 352.5L1322.5 351.1L1332.7 351.1L1333.7 351.7L1343.8 351.7L1344.8 351.3L1353.6 351.3L1354.6 351.8L1368.1 351.8L1369.1 352.1L1379.6 352.1L1380.6 350.5L1393.9 350.5L1394.9 352L1404.6 352L1405.6 351.3L1411.6 351.3L1412.6 350.8L1416.6 350.8L1417.6 350.6L1424.9 350.6L1425.9 352.4L1431.9 352.4L1432.9 351.5L1441.9 351.5L1442.9 351.6L1456.1 351.6L1457.1 351.8L1470.5 351.8L1471.5 350.6L1475 350.6" stroke="#d8f8ff" stroke-width="1.3" fill="none" stroke-opacity="0.95" stroke-linecap="butt" stroke-linejoin="round"/><path d="M1243 355.1L1253 355.1L1254 355.4L1257.9 355.4L1258.9 354.4L1264 354.4L1265 354.5L1270.2 354.5L1271.2 353.5L1280.8 353.5L1281.8 354.3L1294.8 354.3L1295.8 354.7L1304.5 354.7L1305.5 354L1312.7 354L1313.7 354.6L1323.8 354.6L1324.8 355L1331.1 355L1332.1 353.4L1338.6 353.4L1339.6 353.5L1345.5 353.5L1346.5 355.1L1351.6 355.1L1352.6 355.4L1360 355.4L1361 353.5L1372 353.5L1373 355.5L1386.3 355.5L1387.3 355.4L1391.6 355.4L1392.6 354.5L1400.4 354.5L1401.4 353.9L1414.6 353.9L1415.6 355.5L1424.3 355.5L1425.3 354.4L1436.1 354.4L1437.1 355.2L1450.3 355.2L1451.3 353.7L1460.9 353.7L1461.9 354.4L1471.6 354.4L1472.6 353.5L1475 353.5" stroke="#d8f8ff" stroke-width="1.3" fill="none" stroke-opacity="0.95" stroke-linecap="butt" stroke-linejoin="round"/><path d="M297 413.6H300M300.5 415.5L303.5 413.6H306M306 415.5L308 414.2" stroke="#ffff90" stroke-width="1.3" fill="none" stroke-opacity="1.0" stroke-linecap="butt" stroke-linejoin="round"/><line x1="309" y1="480.8" x2="352" y2="480.8" stroke="#ffe8e0" stroke-width="2.5" stroke-dasharray="6 0.5 9 0.5 4 0.5" stroke-dashoffset="0" stroke-opacity="1.0"/><line x1="309" y1="479" x2="352" y2="479" stroke="#ffe8e0" stroke-width="0.9" stroke-dasharray="3 5 6 9" stroke-dashoffset="0" stroke-opacity="0.8"/><line x1="309" y1="484" x2="352" y2="484" stroke="#f4c0b0" stroke-width="1.4" stroke-dasharray="12 2 7 1.5 18 3" stroke-dashoffset="0" stroke-opacity="0.95"/><rect x="352" y="478.6" width="7" height="3.4" fill="#c06040" fill-opacity="0.8" stroke="#ffe8e0" stroke-width="0.8"/><rect x="363" y="478.6" width="7" height="3.4" fill="#c06040" fill-opacity="0.8" stroke="#ffe8e0" stroke-width="0.8"/><rect x="370" y="478.6" width="7" height="3.4" fill="#c06040" fill-opacity="0.8" stroke="#ffe8e0" stroke-width="0.8"/><rect x="746" y="478.6" width="7" height="3.4" fill="#c06040" fill-opacity="0.8" stroke="#ffe8e0" stroke-width="0.8"/><rect x="757" y="478.6" width="7" height="3.4" fill="#c06040" fill-opacity="0.8" stroke="#ffe8e0" stroke-width="0.8"/><rect x="764" y="478.6" width="7" height="3.4" fill="#c06040" fill-opacity="0.8" stroke="#ffe8e0" stroke-width="0.8"/><line x1="378" y1="480.8" x2="445" y2="480.8" stroke="#ffe8e0" stroke-width="2.5" stroke-dasharray="6 0.5 9 0.5 4 0.5" stroke-dashoffset="0" stroke-opacity="1.0"/><line x1="378" y1="479" x2="445" y2="479" stroke="#ffe8e0" stroke-width="0.9" stroke-dasharray="3 5 6 9" stroke-dashoffset="0" stroke-opacity="0.8"/><line x1="378" y1="484" x2="445" y2="484" stroke="#f4c0b0" stroke-width="1.4" stroke-dasharray="12 2 7 1.5 18 3" stroke-dashoffset="0" stroke-opacity="0.95"/><rect x="446" y="478.6" width="7" height="3.4" fill="#c06040" fill-opacity="0.8" stroke="#ffe8e0" stroke-width="0.8"/><rect x="456" y="478.6" width="7" height="3.4" fill="#c06040" fill-opacity="0.8" stroke="#ffe8e0" stroke-width="0.8"/><rect x="466" y="478.6" width="7" height="3.4" fill="#c06040" fill-opacity="0.8" stroke="#ffe8e0" stroke-width="0.8"/><rect x="840" y="478.6" width="7" height="3.4" fill="#c06040" fill-opacity="0.8" stroke="#ffe8e0" stroke-width="0.8"/><rect x="850" y="478.6" width="7" height="3.4" fill="#c06040" fill-opacity="0.8" stroke="#ffe8e0" stroke-width="0.8"/><rect x="860" y="478.6" width="7" height="3.4" fill="#c06040" fill-opacity="0.8" stroke="#ffe8e0" stroke-width="0.8"/><line x1="473" y1="480.8" x2="495" y2="480.8" stroke="#ffe8e0" stroke-width="2.5" stroke-dasharray="6 0.5 9 0.5 4 0.5" stroke-dashoffset="0" stroke-opacity="1.0"/><line x1="473" y1="479" x2="495" y2="479" stroke="#ffe8e0" stroke-width="0.9" stroke-dasharray="3 5 6 9" stroke-dashoffset="0" stroke-opacity="0.8"/><line x1="473" y1="484" x2="495" y2="484" stroke="#f4c0b0" stroke-width="1.4" stroke-dasharray="12 2 7 1.5 18 3" stroke-dashoffset="0" stroke-opacity="0.95"/><path d="M495 479.8L506.3 479.8L507.3 480.5L517.2 480.5L518.2 479.6L528.3 479.6L529.3 479.6L540.6 479.6L541.6 479.5L554.9 479.5L555.9 479.9L571.3 479.9L572.3 478.6L582 478.6" stroke="#ffe8e0" stroke-width="1.7" fill="none" stroke-opacity="1.0" stroke-linecap="butt" stroke-linejoin="round"/><path d="M495 483.3L502.1 483.3L503.1 482.6L516.5 482.6L517.5 481.9L526.6 481.9L527.6 482.1L539.9 482.1L540.9 482L552.3 482L553.3 481L566.4 481L567.4 482.1L575.4 482.1L576.4 481.8L582 481.8" stroke="#ffe8e0" stroke-width="1.5" fill="none" stroke-opacity="1.0" stroke-linecap="butt" stroke-linejoin="round"/><rect x="495" y="479.6" width="87" height="2.2" fill="#f0c0b0" fill-opacity="0.35"/><path d="M586 476.5L592.4 476.5L593.4 477.1L601.6 477.1L602.6 476.7L614.3 476.7L615.3 476.6L626.3 476.6L627.3 477.6L633.6 477.6L634.6 477.6L645.6 477.6L646.6 477.4L655.9 477.4L656.9 477.2L664.5 477.2L665.5 478L678.4 478L679.4 476.9L680 476.9" stroke="#ffe8e0" stroke-width="1.7" fill="none" stroke-opacity="1.0" stroke-linecap="butt" stroke-linejoin="round"/><path d="M586 479.6L600.1 479.6L601.1 479L614.3 479L615.3 479.1L625 479.1L626 479.4L639.6 479.4L640.6 480.4L652.7 480.4L653.7 479.7L662.4 479.7L663.4 480.4L676.4 480.4L677.4 479.5L680 479.5" stroke="#ffe8e0" stroke-width="1.5" fill="none" stroke-opacity="1.0" stroke-linecap="butt" stroke-linejoin="round"/><rect x="586" y="477.8" width="94" height="2.2" fill="#f0c0b0" fill-opacity="0.35"/><line x1="680" y1="480.8" x2="746" y2="480.8" stroke="#ffe8e0" stroke-width="2.5" stroke-dasharray="6 0.5 9 0.5 4 0.5" stroke-dashoffset="0" stroke-opacity="1.0"/><line x1="680" y1="479" x2="746" y2="479" stroke="#ffe8e0" stroke-width="0.9" stroke-dasharray="3 5 6 9" stroke-dashoffset="0" stroke-opacity="0.8"/><line x1="680" y1="484" x2="746" y2="484" stroke="#f4c0b0" stroke-width="1.4" stroke-dasharray="12 2 7 1.5 18 3" stroke-dashoffset="0" stroke-opacity="0.95"/><line x1="772" y1="480.8" x2="839" y2="480.8" stroke="#ffe8e0" stroke-width="2.5" stroke-dasharray="6 0.5 9 0.5 4 0.5" stroke-dashoffset="0" stroke-opacity="1.0"/><line x1="772" y1="479" x2="839" y2="479" stroke="#ffe8e0" stroke-width="0.9" stroke-dasharray="3 5 6 9" stroke-dashoffset="0" stroke-opacity="0.8"/><line x1="772" y1="484" x2="839" y2="484" stroke="#f4c0b0" stroke-width="1.4" stroke-dasharray="12 2 7 1.5 18 3" stroke-dashoffset="0" stroke-opacity="0.95"/><line x1="867" y1="480.8" x2="889" y2="480.8" stroke="#ffe8e0" stroke-width="2.5" stroke-dasharray="6 0.5 9 0.5 4 0.5" stroke-dashoffset="0" stroke-opacity="1.0"/><line x1="867" y1="479" x2="889" y2="479" stroke="#ffe8e0" stroke-width="0.9" stroke-dasharray="3 5 6 9" stroke-dashoffset="0" stroke-opacity="0.8"/><line x1="867" y1="484" x2="889" y2="484" stroke="#f4c0b0" stroke-width="1.4" stroke-dasharray="12 2 7 1.5 18 3" stroke-dashoffset="0" stroke-opacity="0.95"/><path d="M889 481.1L896 481.1L897 479.7L903.3 479.7L904.3 480.1L915.4 480.1L916.4 479.5L928.8 479.5L929.8 478.9L943 478.9L944 479.7L951.6 479.7L952.6 479L959 479L960 479.4L972.7 479.4L973.7 478.4L976 478.4" stroke="#ffe8e0" stroke-width="1.7" fill="none" stroke-opacity="1.0" stroke-linecap="butt" stroke-linejoin="round"/><path d="M889 483L898.6 483L899.6 481.8L908.7 481.8L909.7 482.3L922.3 482.3L923.3 482.6L938 482.6L939 481.5L953.7 481.5L954.7 481L968.2 481L969.2 481L976 481" stroke="#ffe8e0" stroke-width="1.5" fill="none" stroke-opacity="1.0" stroke-linecap="butt" stroke-linejoin="round"/><rect x="889" y="479.6" width="87" height="2.2" fill="#f0c0b0" fill-opacity="0.35"/><path d="M980 477.9L995.3 477.9L996.3 477.1L1004.3 477.1L1005.3 477.1L1014.5 477.1L1015.5 477.2L1024.9 477.2L1025.9 477.5L1033.4 477.5L1034.4 477.5L1047.9 477.5L1048.9 477.6L1062.7 477.6L1063.7 478L1071 478L1072 477.3L1086.3 477.3L1087.3 477.7L1093 477.7L1094 477.8L1105 477.8L1106 478L1121.1 478L1122.1 477.1L1135.7 477.1L1136.7 478.3L1147.6 478.3L1148.6 477.2L1155 477.2L1156 478.6L1168.9 478.6L1169.9 478.2L1176.2 478.2L1177.2 478.4L1177 478.4" stroke="#ffe8e0" stroke-width="1.7" fill="none" stroke-opacity="1.0" stroke-linecap="butt" stroke-linejoin="round"/><path d="M980 479L992.5 479L993.5 479.9L1001.2 479.9L1002.2 480L1012.9 480L1013.9 479.3L1023.4 479.3L1024.4 479.9L1039.5 479.9L1040.5 479.7L1051 479.7L1052 480.1L1064.7 480.1L1065.7 479.7L1080.3 479.7L1081.3 480.1L1095.1 480.1L1096.1 480.4L1110.1 480.4L1111.1 480.6L1125 480.6L1126 480.3L1141 480.3L1142 480.4L1152.8 480.4L1153.8 480L1167.3 480L1168.3 479.6L1177 479.6" stroke="#ffe8e0" stroke-width="1.5" fill="none" stroke-opacity="1.0" stroke-linecap="butt" stroke-linejoin="round"/><rect x="980" y="477.8" width="197" height="2.2" fill="#f0c0b0" fill-opacity="0.35"/><path d="M1177 483.3H1200M1177 486.6H1200" stroke="#ffe8e0" stroke-width="1.4" fill="none" stroke-opacity="1.0" stroke-linecap="butt" stroke-linejoin="round"/><rect x="1177" y="483.5" width="23" height="3" fill="#d09080" fill-opacity="0.5"/><path d="M1200 481L1210.2 481L1211.2 479.5L1218.3 479.5L1219.3 479.8L1225.2 479.8L1226.2 480.5L1232.8 480.5L1233.8 479.3L1238.7 479.3L1239.7 479.7L1243 479.7" stroke="#ffe8e0" stroke-width="1.7" fill="none" stroke-opacity="1.0" stroke-linecap="butt" stroke-linejoin="round"/><path d="M1200 481.9L1210.4 481.9L1211.4 482.3L1216.4 482.3L1217.4 482.8L1226 482.8L1227 481.3L1231.7 481.3L1232.7 481.4L1238.5 481.4L1239.5 482L1243 482" stroke="#ffe8e0" stroke-width="1.5" fill="none" stroke-opacity="1.0" stroke-linecap="butt" stroke-linejoin="round"/><rect x="1200" y="480.1" width="43" height="2.2" fill="#f0c0b0" fill-opacity="0.35"/><path d="M1243 475.2L1254.9 475.2L1255.9 475.2L1263.3 475.2L1264.3 476L1271.5 476L1272.5 475.7L1281.1 475.7L1282.1 475.6L1295.8 475.6L1296.8 476.2L1304.9 476.2L1305.9 475.3L1320.6 475.3L1321.6 476.3L1332.5 476.3L1333.5 475.2L1343.9 475.2L1344.9 476.3L1350.9 476.3L1351.9 475.4L1365.4 475.4L1366.4 475.6L1377.1 475.6L1378.1 476.4L1386.4 476.4L1387.4 475.2L1399.5 475.2L1400.5 475.6L1406.1 475.6L1407.1 476.1L1416.3 476.1L1417.3 475.8L1429.9 475.8L1430.9 475.1L1438 475.1L1439 475.2L1447.7 475.2L1448.7 475.6L1462.9 475.6L1463.9 476.4L1475 476.4" stroke="#ffe8e0" stroke-width="1.7" fill="none" stroke-opacity="1.0" stroke-linecap="butt" stroke-linejoin="round"/><path d="M1243 477.9L1251.7 477.9L1252.7 478.2L1259.7 478.2L1260.7 478.3L1266.2 478.3L1267.2 478.3L1281.1 478.3L1282.1 477.4L1288.5 477.4L1289.5 477.2L1302.1 477.2L1303.1 477.7L1313.4 477.7L1314.4 477.9L1329.5 477.9L1330.5 477.5L1344.6 477.5L1345.6 477.7L1359 477.7L1360 477.1L1374.6 477.1L1375.6 477.3L1389.4 477.3L1390.4 477.8L1401.3 477.8L1402.3 478.3L1409.4 478.3L1410.4 477.5L1419 477.5L1420 477.5L1426.3 477.5L1427.3 478.1L1437.4 478.1L1438.4 478.1L1447.5 478.1L1448.5 477.6L1455.1 477.6L1456.1 478.5L1466.2 478.5L1467.2 478L1475 478" stroke="#ffe8e0" stroke-width="1.5" fill="none" stroke-opacity="1.0" stroke-linecap="butt" stroke-linejoin="round"/><rect x="1243" y="476.2" width="232" height="2.2" fill="#f0c0b0" fill-opacity="0.35"/><line x1="1243" y1="480.3" x2="1475" y2="480.3" stroke="#f4c0b0" stroke-width="1.1" stroke-dasharray="4 8 6 5" stroke-dashoffset="0" stroke-opacity="0.9"/><line x1="122" y1="533.5" x2="129" y2="533.5" stroke="#d0ecff" stroke-width="1.3" stroke-dasharray="1.3 1.1" stroke-dashoffset="0" stroke-opacity="1.0"/><line x1="134" y1="533.5" x2="141" y2="533.5" stroke="#d0ecff" stroke-width="1.3" stroke-dasharray="1.3 1.1" stroke-dashoffset="0" stroke-opacity="1.0"/><line x1="146" y1="533.5" x2="153" y2="533.5" stroke="#d0ecff" stroke-width="1.3" stroke-dasharray="1.3 1.1" stroke-dashoffset="0" stroke-opacity="1.0"/><line x1="158" y1="533.5" x2="165" y2="533.5" stroke="#d0ecff" stroke-width="1.3" stroke-dasharray="1.3 1.1" stroke-dashoffset="0" stroke-opacity="1.0"/><line x1="31.5" y1="551.5" x2="40" y2="551.5" stroke="#d0ecff" stroke-width="1.3" stroke-dasharray="1.3 1.1" stroke-dashoffset="0" stroke-opacity="1.0"/><rect x="164" y="553.6" width="7" height="1.8" fill="#d0ecff" fill-opacity="1.0"/><line x1="171" y1="552.3" x2="585" y2="552.3" stroke="#d0ecff" stroke-width="1.5" stroke-dasharray="2.2 0.7" stroke-dashoffset="0" stroke-opacity="1.0"/><line x1="171" y1="555.2" x2="585" y2="555.2" stroke="#d0ecff" stroke-width="1.3" stroke-dasharray="1.3 1.6" stroke-dashoffset="0" stroke-opacity="1.0"/><line x1="171" y1="549.7" x2="585" y2="549.7" stroke="#d0ecff" stroke-width="1.4" stroke-dasharray="1.4 44.6" stroke-dashoffset="-5" stroke-opacity="1.0"/><line x1="585" y1="547.7" x2="680" y2="547.7" stroke="#d0ecff" stroke-width="1.3" stroke-dasharray="1.3 1.6" stroke-dashoffset="0" stroke-opacity="1.0"/><line x1="585" y1="555.2" x2="680" y2="555.2" stroke="#d0ecff" stroke-width="1.4" stroke-dasharray="1.4 1.5 3 1.5 1.4 3" stroke-dashoffset="0" stroke-opacity="1.0"/><line x1="680" y1="552.3" x2="979" y2="552.3" stroke="#d0ecff" stroke-width="1.5" stroke-dasharray="2.2 0.7" stroke-dashoffset="0" stroke-opacity="1.0"/><line x1="680" y1="555.2" x2="979" y2="555.2" stroke="#d0ecff" stroke-width="1.3" stroke-dasharray="1.3 1.6" stroke-dashoffset="0" stroke-opacity="1.0"/><line x1="680" y1="549.7" x2="979" y2="549.7" stroke="#d0ecff" stroke-width="1.4" stroke-dasharray="1.4 44.6" stroke-dashoffset="-5" stroke-opacity="1.0"/><line x1="979" y1="547.7" x2="1075" y2="547.7" stroke="#d0ecff" stroke-width="1.3" stroke-dasharray="1.3 1.6" stroke-dashoffset="0" stroke-opacity="1.0"/><line x1="979" y1="555.2" x2="1075" y2="555.2" stroke="#d0ecff" stroke-width="1.4" stroke-dasharray="1.4 1.5 3 1.5 1.4 3" stroke-dashoffset="0" stroke-opacity="1.0"/><line x1="1072" y1="550" x2="1084" y2="550" stroke="#d0ecff" stroke-width="1.3" stroke-dasharray="1.3 3.3" stroke-dashoffset="0" stroke-opacity="1.0"/><line x1="1096" y1="547.7" x2="1165" y2="547.7" stroke="#d0ecff" stroke-width="1.3" stroke-dasharray="1.3 1.6" stroke-dashoffset="0" stroke-opacity="1.0"/><line x1="1096" y1="555.2" x2="1165" y2="555.2" stroke="#d0ecff" stroke-width="1.4" stroke-dasharray="1.4 1.5 3 1.5 1.4 3" stroke-dashoffset="0" stroke-opacity="1.0"/><line x1="1165" y1="550" x2="1177" y2="550" stroke="#d0ecff" stroke-width="1.3" stroke-dasharray="1.3 3.3" stroke-dashoffset="0" stroke-opacity="1.0"/><line x1="1183" y1="552.3" x2="1243" y2="552.3" stroke="#d0ecff" stroke-width="1.2" stroke-dasharray="2.2 0.7" stroke-dashoffset="0" stroke-opacity="1.0"/><line x1="1165" y1="555.2" x2="1243" y2="555.2" stroke="#d0ecff" stroke-width="1.3" stroke-dasharray="1.3 2.5" stroke-dashoffset="0" stroke-opacity="1.0"/><rect x="1190" y="554.3" width="12" height="1.8" fill="#d0ecff" fill-opacity="1.0"/><rect x="1236" y="554.3" width="7" height="1.8" fill="#d0ecff" fill-opacity="1.0"/><path d="M1200 550h1.4M1224 550h1.4" stroke="#d0ecff" stroke-width="1.4"/><line x1="1243" y1="547.7" x2="1475" y2="547.7" stroke="#d0ecff" stroke-width="1.3" stroke-dasharray="1.3 1.6" stroke-dashoffset="0" stroke-opacity="1.0"/><line x1="1243" y1="555.2" x2="1475" y2="555.2" stroke="#d0ecff" stroke-width="1.4" stroke-dasharray="1.4 1.5 3 1.5 1.4 3" stroke-dashoffset="0" stroke-opacity="1.0"/><path d="M494 604.3H497M498.5 604.3H501M502 603.6H514.3M494 607H502L503 606.3H514.3L515.3 607.6H517.3M494 611H502L503 609.8H513.3L515.3 612.8L517.3 611.5M517.3 604.3H520.3M521.8 604.3H524.3M525.3 603.6H537.6M517.3 607H525.3L526.3 606.3H537.6L538.6 607.6H540.6M517.3 611H525.3L526.3 609.8H536.6L538.6 612.8L540.6 611.5M540.6 604.3H543.6M545.1 604.3H547.6M548.6 603.6H560.9M540.6 607H548.6L549.6 606.3H560.9L561.9 607.6H563.9M540.6 611H548.6L549.6 609.8H559.9L561.9 612.8L563.9 611.5M563.9 604.3H566.9M568.4 604.3H570.9M571.9 603.6H584.2M563.9 607H571.9L572.9 606.3H584.2L585.2 607.6H587.2M563.9 611H571.9L572.9 609.8H583.2L585.2 612.8L587.2 611.5M587.2 604.3H590.2M591.7 604.3H594.2M595.2 603.6H607.5M587.2 607H595.2L596.2 606.3H607.5L608.5 607.6H610.5M587.2 611H595.2L596.2 609.8H606.5L608.5 612.8L610.5 611.5M610.5 604.3H613.5M615 604.3H617.5M618.5 603.6H630.8M610.5 607H618.5L619.5 606.3H630.8L631.8 607.6H633.8M610.5 611H618.5L619.5 609.8H629.8L631.8 612.8L633.8 611.5M633.8 604.3H636.8M638.3 604.3H640.8M641.8 603.6H654.1M633.8 607H641.8L642.8 606.3H654.1L655.1 607.6H657.1M633.8 611H641.8L642.8 609.8H653.1L655.1 612.8L657.1 611.5M657.1 604.3H660.1M661.6 604.3H664.1M665.1 603.6H677M657.1 607H665.1L666.1 606.3H677L678 607.6H680M657.1 611H665.1L666.1 609.8H676L678 612.8L680 611.5" stroke="#ffe0ea" stroke-width="1.5" fill="none" stroke-opacity="1.0" stroke-linecap="butt" stroke-linejoin="round"/><path d="M887 604.3H890M891.5 604.3H894M895 603.6H907.3M887 607H895L896 606.3H907.3L908.3 607.6H910.3M887 611H895L896 609.8H906.3L908.3 612.8L910.3 611.5M910.3 604.3H913.3M914.8 604.3H917.3M918.3 603.6H930.6M910.3 607H918.3L919.3 606.3H930.6L931.6 607.6H933.6M910.3 611H918.3L919.3 609.8H929.6L931.6 612.8L933.6 611.5M933.6 604.3H936.6M938.1 604.3H940.6M941.6 603.6H953.9M933.6 607H941.6L942.6 606.3H953.9L954.9 607.6H956.9M933.6 611H941.6L942.6 609.8H952.9L954.9 612.8L956.9 611.5M956.9 604.3H959.9M961.4 604.3H963.9M964.9 603.6H977.2M956.9 607H964.9L965.9 606.3H977.2L978.2 607.6H980.2M956.9 611H964.9L965.9 609.8H976.2L978.2 612.8L980.2 611.5M980.2 604.3H983.2M984.7 604.3H987.2M988.2 603.6H1000.5M980.2 607H988.2L989.2 606.3H1000.5L1001.5 607.6H1003.5M980.2 611H988.2L989.2 609.8H999.5L1001.5 612.8L1003.5 611.5M1003.5 604.3H1006.5M1008 604.3H1010.5M1011.5 603.6H1023.8M1003.5 607H1011.5L1012.5 606.3H1023.8L1024.8 607.6H1026.8M1003.5 611H1011.5L1012.5 609.8H1022.8L1024.8 612.8L1026.8 611.5M1026.8 604.3H1029.8M1031.3 604.3H1033.8M1034.8 603.6H1047.1M1026.8 607H1034.8L1035.8 606.3H1047.1L1048.1 607.6H1050.1M1026.8 611H1034.8L1035.8 609.8H1046.1L1048.1 612.8L1050.1 611.5M1050.1 604.3H1053.1M1054.6 604.3H1057.1M1058.1 603.6H1070.4M1050.1 607H1058.1L1059.1 606.3H1070.4L1071.4 607.6H1073.4M1050.1 611H1058.1L1059.1 609.8H1069.4L1071.4 612.8L1073.4 611.5M1073.4 604.3H1076.4M1077.9 604.3H1080.4M1081.4 603.6H1093.7M1073.4 607H1081.4L1082.4 606.3H1093.7L1094.7 607.6H1096.7M1073.4 611H1081.4L1082.4 609.8H1092.7L1094.7 612.8L1096.7 611.5M1096.7 604.3H1099.7M1101.2 604.3H1103.7M1104.7 603.6H1117M1096.7 607H1104.7L1105.7 606.3H1117L1118 607.6H1120M1096.7 611H1104.7L1105.7 609.8H1116L1118 612.8L1120 611.5M1120 604.3H1123M1124.5 604.3H1127M1128 603.6H1140.3M1120 607H1128L1129 606.3H1140.3L1141.3 607.6H1143.3M1120 611H1128L1129 609.8H1139.3L1141.3 612.8L1143.3 611.5M1143.3 604.3H1146.3M1147.8 604.3H1150.3M1151.3 603.6H1163.6M1143.3 607H1151.3L1152.3 606.3H1163.6L1164.6 607.6H1166.6M1143.3 611H1151.3L1152.3 609.8H1162.6L1164.6 612.8L1166.6 611.5M1166.6 604.3H1169.6M1171.1 604.3H1173.6M1174.6 603.6H1174M1166.6 607H1174.6L1175.6 606.3H1174L1175 607.6H1177M1166.6 611H1174.6L1175.6 609.8H1173L1175 612.8L1177 611.5" stroke="#ffe0ea" stroke-width="1.5" fill="none" stroke-opacity="1.0" stroke-linecap="butt" stroke-linejoin="round"/><rect x="1177" y="609.8" width="23" height="3.2" fill="#d08098" fill-opacity="0.6" stroke="#ffe0ea" stroke-width="0.9"/><path d="M1200 603.8H1203M1204.5 603.8H1207M1208 603.1H1220.3M1200 606.5H1208L1209 605.8H1220.3L1221.3 607.1H1223.3M1200 610.5H1208L1209 609.3H1219.3L1221.3 612.3L1223.3 611M1223.3 603.8H1226.3M1227.8 603.8H1230.3M1231.3 603.1H1243.6M1223.3 606.5H1231.3L1232.3 605.8H1243.6L1244.6 607.1H1246.6M1223.3 610.5H1231.3L1232.3 609.3H1242.6L1244.6 612.3L1246.6 611M1246.6 603.8H1249.6M1251.1 603.8H1253.6M1254.6 603.1H1266.9M1246.6 606.5H1254.6L1255.6 605.8H1266.9L1267.9 607.1H1269.9M1246.6 610.5H1254.6L1255.6 609.3H1265.9L1267.9 612.3L1269.9 611M1269.9 603.8H1272.9M1274.4 603.8H1276.9M1277.9 603.1H1290.2M1269.9 606.5H1277.9L1278.9 605.8H1290.2L1291.2 607.1H1293.2M1269.9 610.5H1277.9L1278.9 609.3H1289.2L1291.2 612.3L1293.2 611M1293.2 603.8H1296.2M1297.7 603.8H1300.2M1301.2 603.1H1313.5M1293.2 606.5H1301.2L1302.2 605.8H1313.5L1314.5 607.1H1316.5M1293.2 610.5H1301.2L1302.2 609.3H1312.5L1314.5 612.3L1316.5 611M1316.5 603.8H1319.5M1321 603.8H1323.5M1324.5 603.1H1336.8M1316.5 606.5H1324.5L1325.5 605.8H1336.8L1337.8 607.1H1339.8M1316.5 610.5H1324.5L1325.5 609.3H1335.8L1337.8 612.3L1339.8 611M1339.8 603.8H1342.8M1344.3 603.8H1346.8M1347.8 603.1H1360.1M1339.8 606.5H1347.8L1348.8 605.8H1360.1L1361.1 607.1H1363.1M1339.8 610.5H1347.8L1348.8 609.3H1359.1L1361.1 612.3L1363.1 611M1363.1 603.8H1366.1M1367.6 603.8H1370.1M1371.1 603.1H1383.4M1363.1 606.5H1371.1L1372.1 605.8H1383.4L1384.4 607.1H1386.4M1363.1 610.5H1371.1L1372.1 609.3H1382.4L1384.4 612.3L1386.4 611M1386.4 603.8H1389.4M1390.9 603.8H1393.4M1394.4 603.1H1406.7M1386.4 606.5H1394.4L1395.4 605.8H1406.7L1407.7 607.1H1409.7M1386.4 610.5H1394.4L1395.4 609.3H1405.7L1407.7 612.3L1409.7 611M1409.7 603.8H1412.7M1414.2 603.8H1416.7M1417.7 603.1H1430M1409.7 606.5H1417.7L1418.7 605.8H1430L1431 607.1H1433M1409.7 610.5H1417.7L1418.7 609.3H1429L1431 612.3L1433 611M1433 603.8H1436M1437.5 603.8H1440M1441 603.1H1453.3M1433 606.5H1441L1442 605.8H1453.3L1454.3 607.1H1456.3M1433 610.5H1441L1442 609.3H1452.3L1454.3 612.3L1456.3 611M1456.3 603.8H1459.3M1460.8 603.8H1463.3M1464.3 603.1H1472M1456.3 606.5H1464.3L1465.3 605.8H1472L1473 607.1H1475M1456.3 610.5H1464.3L1465.3 609.3H1471L1473 612.3L1475 611" stroke="#ffe0ea" stroke-width="1.5" fill="none" stroke-opacity="1.0" stroke-linecap="butt" stroke-linejoin="round"/><path d="M754.5 663H773M778 655.5H784M784.5 658.2L786 659.8H795" stroke="#e0ffe0" stroke-width="1.5" fill="none" stroke-opacity="1.0" stroke-linecap="butt" stroke-linejoin="round"/><path d="M1097 671.8L1101 669.2H1106M1109 672H1114M1116.5 659.5L1119 658M1120.5 661L1123.5 662H1141M1143 662.5H1151L1155 664.5M1157.5 668H1163M1164 660L1166.5 658.5M1169.5 661L1174 663.3H1191L1195.5 659.2H1200" stroke="#e0ffe0" stroke-width="1.5" fill="none" stroke-opacity="1.0" stroke-linecap="butt" stroke-linejoin="round"/>
</g>
<text x="60.8" y="31.30" font-family="Liberation Sans" font-weight="bold" font-size="26" fill="#fff" stroke="#fff" stroke-width="0.45" textLength="127.5" lengthAdjust="spacingAndGlyphs">FngrBass</text>
<text x="60.8" y="92.70" font-family="Liberation Sans" font-weight="bold" font-size="26" fill="#fff" stroke="#fff" stroke-width="0.45" textLength="126.2" lengthAdjust="spacingAndGlyphs">SynStrg1</text>
<text x="60.8" y="154.10" font-family="Liberation Sans" font-weight="bold" font-size="26" fill="#fff" stroke="#fff" stroke-width="0.45" textLength="105.8" lengthAdjust="spacingAndGlyphs">AltoSax</text>
<text x="60.8" y="215.50" font-family="Liberation Sans" font-weight="bold" font-size="26" fill="#fff" stroke="#fff" stroke-width="0.45" textLength="125.3" lengthAdjust="spacingAndGlyphs">AahChoir</text>
<text x="60.8" y="276.90" font-family="Liberation Sans" font-weight="bold" font-size="26" fill="#fff" stroke="#fff" stroke-width="0.45" textLength="113.0" lengthAdjust="spacingAndGlyphs">Distortd</text>
<text x="60.8" y="338.30" font-family="Liberation Sans" font-weight="bold" font-size="26" fill="#fff" stroke="#fff" stroke-width="0.45" textLength="131.8" lengthAdjust="spacingAndGlyphs">Ensmble1</text>
<text x="60.8" y="399.70" font-family="Liberation Sans" font-weight="bold" font-size="26" fill="#fff" stroke="#fff" stroke-width="0.45" textLength="147.0" lengthAdjust="spacingAndGlyphs">NewAgePd</text>
<text x="60.8" y="461.10" font-family="Liberation Sans" font-weight="bold" font-size="26" fill="#fff" stroke="#fff" stroke-width="0.45" textLength="118.0" lengthAdjust="spacingAndGlyphs">ElPiano2</text>
<text x="60.8" y="522.50" font-family="Liberation Sans" font-weight="bold" font-size="26" fill="#fff" stroke="#fff" stroke-width="0.45" textLength="142.5" lengthAdjust="spacingAndGlyphs">GM&#160;Drums</text>
<text x="60.8" y="583.90" font-family="Liberation Sans" font-weight="bold" font-size="26" fill="#fff" stroke="#fff" stroke-width="0.45" textLength="118.9" lengthAdjust="spacingAndGlyphs">Ovrdrive</text>
<text x="60.8" y="645.30" font-family="Liberation Sans" font-weight="bold" font-size="26" fill="#fff" stroke="#fff" stroke-width="0.45" textLength="113.0" lengthAdjust="spacingAndGlyphs">Distortd</text>
<rect x="30.30" y="695" width="1.4" height="6.5" fill="#fff"/>
<text x="13.00" y="721" font-family="Liberation Sans" font-size="18.5" fill="#fff" textLength="36.0" lengthAdjust="spacingAndGlyphs">0.0s</text>
<rect x="312.70" y="695" width="1.4" height="6.5" fill="#fff"/>
<text x="289.20" y="721" font-family="Liberation Sans" font-size="18.5" fill="#fff" textLength="48.4" lengthAdjust="spacingAndGlyphs">50.0s</text>
<rect x="595.10" y="695" width="1.4" height="6.5" fill="#fff"/>
<text x="565.65" y="721" font-family="Liberation Sans" font-size="18.5" fill="#fff" textLength="60.3" lengthAdjust="spacingAndGlyphs">100.0s</text>
<rect x="877.50" y="695" width="1.4" height="6.5" fill="#fff"/>
<text x="848.05" y="721" font-family="Liberation Sans" font-size="18.5" fill="#fff" textLength="60.3" lengthAdjust="spacingAndGlyphs">150.0s</text>
<rect x="1159.90" y="695" width="1.4" height="6.5" fill="#fff"/>
<text x="1130.45" y="721" font-family="Liberation Sans" font-size="18.5" fill="#fff" textLength="60.3" lengthAdjust="spacingAndGlyphs">200.0s</text>
<rect x="1442.30" y="695" width="1.4" height="6.5" fill="#fff"/>
<text x="1412.85" y="721" font-family="Liberation Sans" font-size="18.5" fill="#fff" textLength="60.3" lengthAdjust="spacingAndGlyphs">250.0s</text>
<text x="25.5" y="740.3" font-family="Liberation Sans" font-size="14" fill="#d8d8d8" textLength="147.5" lengthAdjust="spacingAndGlyphs">© www.midifiles.com</text>
<rect x="1204.22" y="105.22" width="150.66" height="150.66" fill="#ffe629"/>
<path d="M1209.80 110.80h5.58v5.58h-5.58zM1215.38 110.80h5.58v5.58h-5.58zM1220.96 110.80h5.58v5.58h-5.58zM1226.54 110.80h5.58v5.58h-5.58zM1232.12 110.80h5.58v5.58h-5.58zM1237.70 110.80h5.58v5.58h-5.58zM1243.28 110.80h5.58v5.58h-5.58zM1254.44 110.80h5.58v5.58h-5.58zM1271.18 110.80h5.58v5.58h-5.58zM1276.76 110.80h5.58v5.58h-5.58zM1287.92 110.80h5.58v5.58h-5.58zM1310.24 110.80h5.58v5.58h-5.58zM1315.82 110.80h5.58v5.58h-5.58zM1321.40 110.80h5.58v5.58h-5.58zM1326.98 110.80h5.58v5.58h-5.58zM1332.56 110.80h5.58v5.58h-5.58zM1338.14 110.80h5.58v5.58h-5.58zM1343.72 110.80h5.58v5.58h-5.58zM1209.80 116.38h5.58v5.58h-5.58zM1243.28 116.38h5.58v5.58h-5.58zM1260.02 116.38h5.58v5.58h-5.58zM1265.60 116.38h5.58v5.58h-5.58zM1282.34 116.38h5.58v5.58h-5.58zM1287.92 116.38h5.58v5.58h-5.58zM1310.24 116.38h5.58v5.58h-5.58zM1343.72 116.38h5.58v5.58h-5.58zM1209.80 121.96h5.58v5.58h-5.58zM1220.96 121.96h5.58v5.58h-5.58zM1226.54 121.96h5.58v5.58h-5.58zM1232.12 121.96h5.58v5.58h-5.58zM1243.28 121.96h5.58v5.58h-5.58zM1265.60 121.96h5.58v5.58h-5.58zM1276.76 121.96h5.58v5.58h-5.58zM1282.34 121.96h5.58v5.58h-5.58zM1287.92 121.96h5.58v5.58h-5.58zM1310.24 121.96h5.58v5.58h-5.58zM1321.40 121.96h5.58v5.58h-5.58zM1326.98 121.96h5.58v5.58h-5.58zM1332.56 121.96h5.58v5.58h-5.58zM1343.72 121.96h5.58v5.58h-5.58zM1209.80 127.54h5.58v5.58h-5.58zM1220.96 127.54h5.58v5.58h-5.58zM1226.54 127.54h5.58v5.58h-5.58zM1232.12 127.54h5.58v5.58h-5.58zM1243.28 127.54h5.58v5.58h-5.58zM1276.76 127.54h5.58v5.58h-5.58zM1282.34 127.54h5.58v5.58h-5.58zM1299.08 127.54h5.58v5.58h-5.58zM1310.24 127.54h5.58v5.58h-5.58zM1321.40 127.54h5.58v5.58h-5.58zM1326.98 127.54h5.58v5.58h-5.58zM1332.56 127.54h5.58v5.58h-5.58zM1343.72 127.54h5.58v5.58h-5.58zM1209.80 133.12h5.58v5.58h-5.58zM1220.96 133.12h5.58v5.58h-5.58zM1226.54 133.12h5.58v5.58h-5.58zM1232.12 133.12h5.58v5.58h-5.58zM1243.28 133.12h5.58v5.58h-5.58zM1260.02 133.12h5.58v5.58h-5.58zM1271.18 133.12h5.58v5.58h-5.58zM1282.34 133.12h5.58v5.58h-5.58zM1287.92 133.12h5.58v5.58h-5.58zM1299.08 133.12h5.58v5.58h-5.58zM1310.24 133.12h5.58v5.58h-5.58zM1321.40 133.12h5.58v5.58h-5.58zM1326.98 133.12h5.58v5.58h-5.58zM1332.56 133.12h5.58v5.58h-5.58zM1343.72 133.12h5.58v5.58h-5.58zM1209.80 138.70h5.58v5.58h-5.58zM1243.28 138.70h5.58v5.58h-5.58zM1265.60 138.70h5.58v5.58h-5.58zM1276.76 138.70h5.58v5.58h-5.58zM1287.92 138.70h5.58v5.58h-5.58zM1310.24 138.70h5.58v5.58h-5.58zM1343.72 138.70h5.58v5.58h-5.58zM1209.80 144.28h5.58v5.58h-5.58zM1215.38 144.28h5.58v5.58h-5.58zM1220.96 144.28h5.58v5.58h-5.58zM1226.54 144.28h5.58v5.58h-5.58zM1232.12 144.28h5.58v5.58h-5.58zM1237.70 144.28h5.58v5.58h-5.58zM1243.28 144.28h5.58v5.58h-5.58zM1254.44 144.28h5.58v5.58h-5.58zM1265.60 144.28h5.58v5.58h-5.58zM1276.76 144.28h5.58v5.58h-5.58zM1287.92 144.28h5.58v5.58h-5.58zM1299.08 144.28h5.58v5.58h-5.58zM1310.24 144.28h5.58v5.58h-5.58zM1315.82 144.28h5.58v5.58h-5.58zM1321.40 144.28h5.58v5.58h-5.58zM1326.98 144.28h5.58v5.58h-5.58zM1332.56 144.28h5.58v5.58h-5.58zM1338.14 144.28h5.58v5.58h-5.58zM1343.72 144.28h5.58v5.58h-5.58zM1254.44 149.86h5.58v5.58h-5.58zM1265.60 149.86h5.58v5.58h-5.58zM1271.18 149.86h5.58v5.58h-5.58zM1282.34 149.86h5.58v5.58h-5.58zM1287.92 149.86h5.58v5.58h-5.58zM1209.80 155.44h5.58v5.58h-5.58zM1215.38 155.44h5.58v5.58h-5.58zM1226.54 155.44h5.58v5.58h-5.58zM1232.12 155.44h5.58v5.58h-5.58zM1243.28 155.44h5.58v5.58h-5.58zM1260.02 155.44h5.58v5.58h-5.58zM1265.60 155.44h5.58v5.58h-5.58zM1271.18 155.44h5.58v5.58h-5.58zM1287.92 155.44h5.58v5.58h-5.58zM1299.08 155.44h5.58v5.58h-5.58zM1310.24 155.44h5.58v5.58h-5.58zM1343.72 155.44h5.58v5.58h-5.58zM1209.80 161.02h5.58v5.58h-5.58zM1215.38 161.02h5.58v5.58h-5.58zM1220.96 161.02h5.58v5.58h-5.58zM1237.70 161.02h5.58v5.58h-5.58zM1260.02 161.02h5.58v5.58h-5.58zM1276.76 161.02h5.58v5.58h-5.58zM1287.92 161.02h5.58v5.58h-5.58zM1293.50 161.02h5.58v5.58h-5.58zM1304.66 161.02h5.58v5.58h-5.58zM1315.82 161.02h5.58v5.58h-5.58zM1321.40 161.02h5.58v5.58h-5.58zM1326.98 161.02h5.58v5.58h-5.58zM1332.56 161.02h5.58v5.58h-5.58zM1338.14 161.02h5.58v5.58h-5.58zM1209.80 166.60h5.58v5.58h-5.58zM1215.38 166.60h5.58v5.58h-5.58zM1232.12 166.60h5.58v5.58h-5.58zM1243.28 166.60h5.58v5.58h-5.58zM1248.86 166.60h5.58v5.58h-5.58zM1265.60 166.60h5.58v5.58h-5.58zM1271.18 166.60h5.58v5.58h-5.58zM1293.50 166.60h5.58v5.58h-5.58zM1310.24 166.60h5.58v5.58h-5.58zM1315.82 166.60h5.58v5.58h-5.58zM1326.98 166.60h5.58v5.58h-5.58zM1343.72 166.60h5.58v5.58h-5.58zM1209.80 172.18h5.58v5.58h-5.58zM1226.54 172.18h5.58v5.58h-5.58zM1232.12 172.18h5.58v5.58h-5.58zM1260.02 172.18h5.58v5.58h-5.58zM1265.60 172.18h5.58v5.58h-5.58zM1271.18 172.18h5.58v5.58h-5.58zM1276.76 172.18h5.58v5.58h-5.58zM1287.92 172.18h5.58v5.58h-5.58zM1315.82 172.18h5.58v5.58h-5.58zM1326.98 172.18h5.58v5.58h-5.58zM1332.56 172.18h5.58v5.58h-5.58zM1338.14 172.18h5.58v5.58h-5.58zM1343.72 172.18h5.58v5.58h-5.58zM1209.80 177.76h5.58v5.58h-5.58zM1226.54 177.76h5.58v5.58h-5.58zM1237.70 177.76h5.58v5.58h-5.58zM1243.28 177.76h5.58v5.58h-5.58zM1248.86 177.76h5.58v5.58h-5.58zM1254.44 177.76h5.58v5.58h-5.58zM1260.02 177.76h5.58v5.58h-5.58zM1271.18 177.76h5.58v5.58h-5.58zM1276.76 177.76h5.58v5.58h-5.58zM1293.50 177.76h5.58v5.58h-5.58zM1299.08 177.76h5.58v5.58h-5.58zM1310.24 177.76h5.58v5.58h-5.58zM1343.72 177.76h5.58v5.58h-5.58zM1209.80 183.34h5.58v5.58h-5.58zM1215.38 183.34h5.58v5.58h-5.58zM1232.12 183.34h5.58v5.58h-5.58zM1254.44 183.34h5.58v5.58h-5.58zM1260.02 183.34h5.58v5.58h-5.58zM1282.34 183.34h5.58v5.58h-5.58zM1293.50 183.34h5.58v5.58h-5.58zM1299.08 183.34h5.58v5.58h-5.58zM1304.66 183.34h5.58v5.58h-5.58zM1321.40 183.34h5.58v5.58h-5.58zM1338.14 183.34h5.58v5.58h-5.58zM1209.80 188.92h5.58v5.58h-5.58zM1215.38 188.92h5.58v5.58h-5.58zM1220.96 188.92h5.58v5.58h-5.58zM1226.54 188.92h5.58v5.58h-5.58zM1232.12 188.92h5.58v5.58h-5.58zM1243.28 188.92h5.58v5.58h-5.58zM1248.86 188.92h5.58v5.58h-5.58zM1254.44 188.92h5.58v5.58h-5.58zM1271.18 188.92h5.58v5.58h-5.58zM1276.76 188.92h5.58v5.58h-5.58zM1293.50 188.92h5.58v5.58h-5.58zM1304.66 188.92h5.58v5.58h-5.58zM1310.24 188.92h5.58v5.58h-5.58zM1321.40 188.92h5.58v5.58h-5.58zM1326.98 188.92h5.58v5.58h-5.58zM1332.56 188.92h5.58v5.58h-5.58zM1338.14 188.92h5.58v5.58h-5.58zM1343.72 188.92h5.58v5.58h-5.58zM1209.80 194.50h5.58v5.58h-5.58zM1220.96 194.50h5.58v5.58h-5.58zM1232.12 194.50h5.58v5.58h-5.58zM1237.70 194.50h5.58v5.58h-5.58zM1248.86 194.50h5.58v5.58h-5.58zM1254.44 194.50h5.58v5.58h-5.58zM1260.02 194.50h5.58v5.58h-5.58zM1271.18 194.50h5.58v5.58h-5.58zM1299.08 194.50h5.58v5.58h-5.58zM1304.66 194.50h5.58v5.58h-5.58zM1315.82 194.50h5.58v5.58h-5.58zM1326.98 194.50h5.58v5.58h-5.58zM1332.56 194.50h5.58v5.58h-5.58zM1343.72 194.50h5.58v5.58h-5.58zM1209.80 200.08h5.58v5.58h-5.58zM1243.28 200.08h5.58v5.58h-5.58zM1248.86 200.08h5.58v5.58h-5.58zM1260.02 200.08h5.58v5.58h-5.58zM1276.76 200.08h5.58v5.58h-5.58zM1282.34 200.08h5.58v5.58h-5.58zM1287.92 200.08h5.58v5.58h-5.58zM1299.08 200.08h5.58v5.58h-5.58zM1304.66 200.08h5.58v5.58h-5.58zM1310.24 200.08h5.58v5.58h-5.58zM1315.82 200.08h5.58v5.58h-5.58zM1321.40 200.08h5.58v5.58h-5.58zM1332.56 200.08h5.58v5.58h-5.58zM1338.14 200.08h5.58v5.58h-5.58zM1254.44 205.66h5.58v5.58h-5.58zM1260.02 205.66h5.58v5.58h-5.58zM1271.18 205.66h5.58v5.58h-5.58zM1276.76 205.66h5.58v5.58h-5.58zM1282.34 205.66h5.58v5.58h-5.58zM1299.08 205.66h5.58v5.58h-5.58zM1321.40 205.66h5.58v5.58h-5.58zM1332.56 205.66h5.58v5.58h-5.58zM1338.14 205.66h5.58v5.58h-5.58zM1209.80 211.24h5.58v5.58h-5.58zM1215.38 211.24h5.58v5.58h-5.58zM1220.96 211.24h5.58v5.58h-5.58zM1226.54 211.24h5.58v5.58h-5.58zM1232.12 211.24h5.58v5.58h-5.58zM1237.70 211.24h5.58v5.58h-5.58zM1243.28 211.24h5.58v5.58h-5.58zM1271.18 211.24h5.58v5.58h-5.58zM1299.08 211.24h5.58v5.58h-5.58zM1310.24 211.24h5.58v5.58h-5.58zM1321.40 211.24h5.58v5.58h-5.58zM1343.72 211.24h5.58v5.58h-5.58zM1209.80 216.82h5.58v5.58h-5.58zM1243.28 216.82h5.58v5.58h-5.58zM1260.02 216.82h5.58v5.58h-5.58zM1282.34 216.82h5.58v5.58h-5.58zM1287.92 216.82h5.58v5.58h-5.58zM1293.50 216.82h5.58v5.58h-5.58zM1299.08 216.82h5.58v5.58h-5.58zM1321.40 216.82h5.58v5.58h-5.58zM1338.14 216.82h5.58v5.58h-5.58zM1343.72 216.82h5.58v5.58h-5.58zM1209.80 222.40h5.58v5.58h-5.58zM1220.96 222.40h5.58v5.58h-5.58zM1226.54 222.40h5.58v5.58h-5.58zM1232.12 222.40h5.58v5.58h-5.58zM1243.28 222.40h5.58v5.58h-5.58zM1254.44 222.40h5.58v5.58h-5.58zM1260.02 222.40h5.58v5.58h-5.58zM1271.18 222.40h5.58v5.58h-5.58zM1276.76 222.40h5.58v5.58h-5.58zM1287.92 222.40h5.58v5.58h-5.58zM1293.50 222.40h5.58v5.58h-5.58zM1299.08 222.40h5.58v5.58h-5.58zM1304.66 222.40h5.58v5.58h-5.58zM1310.24 222.40h5.58v5.58h-5.58zM1315.82 222.40h5.58v5.58h-5.58zM1321.40 222.40h5.58v5.58h-5.58zM1209.80 227.98h5.58v5.58h-5.58zM1220.96 227.98h5.58v5.58h-5.58zM1226.54 227.98h5.58v5.58h-5.58zM1232.12 227.98h5.58v5.58h-5.58zM1243.28 227.98h5.58v5.58h-5.58zM1254.44 227.98h5.58v5.58h-5.58zM1260.02 227.98h5.58v5.58h-5.58zM1265.60 227.98h5.58v5.58h-5.58zM1271.18 227.98h5.58v5.58h-5.58zM1287.92 227.98h5.58v5.58h-5.58zM1293.50 227.98h5.58v5.58h-5.58zM1299.08 227.98h5.58v5.58h-5.58zM1310.24 227.98h5.58v5.58h-5.58zM1338.14 227.98h5.58v5.58h-5.58zM1343.72 227.98h5.58v5.58h-5.58zM1209.80 233.56h5.58v5.58h-5.58zM1220.96 233.56h5.58v5.58h-5.58zM1226.54 233.56h5.58v5.58h-5.58zM1232.12 233.56h5.58v5.58h-5.58zM1243.28 233.56h5.58v5.58h-5.58zM1271.18 233.56h5.58v5.58h-5.58zM1282.34 233.56h5.58v5.58h-5.58zM1287.92 233.56h5.58v5.58h-5.58zM1299.08 233.56h5.58v5.58h-5.58zM1304.66 233.56h5.58v5.58h-5.58zM1321.40 233.56h5.58v5.58h-5.58zM1326.98 233.56h5.58v5.58h-5.58zM1332.56 233.56h5.58v5.58h-5.58zM1338.14 233.56h5.58v5.58h-5.58zM1343.72 233.56h5.58v5.58h-5.58zM1209.80 239.14h5.58v5.58h-5.58zM1243.28 239.14h5.58v5.58h-5.58zM1254.44 239.14h5.58v5.58h-5.58zM1260.02 239.14h5.58v5.58h-5.58zM1287.92 239.14h5.58v5.58h-5.58zM1315.82 239.14h5.58v5.58h-5.58zM1321.40 239.14h5.58v5.58h-5.58zM1332.56 239.14h5.58v5.58h-5.58zM1338.14 239.14h5.58v5.58h-5.58zM1343.72 239.14h5.58v5.58h-5.58zM1209.80 244.72h5.58v5.58h-5.58zM1215.38 244.72h5.58v5.58h-5.58zM1220.96 244.72h5.58v5.58h-5.58zM1226.54 244.72h5.58v5.58h-5.58zM1232.12 244.72h5.58v5.58h-5.58zM1237.70 244.72h5.58v5.58h-5.58zM1243.28 244.72h5.58v5.58h-5.58zM1254.44 244.72h5.58v5.58h-5.58zM1260.02 244.72h5.58v5.58h-5.58zM1265.60 244.72h5.58v5.58h-5.58zM1276.76 244.72h5.58v5.58h-5.58zM1299.08 244.72h5.58v5.58h-5.58zM1304.66 244.72h5.58v5.58h-5.58zM1326.98 244.72h5.58v5.58h-5.58zM1343.72 244.72h5.58v5.58h-5.58z" fill="#3f0964"/>
<rect x="599" y="711" width="302" height="28.5" fill="#222"/>
<rect x="608.5" y="712.5" width="52" height="25" rx="2" fill="#151515"/>
<rect x="669.5" y="712.5" width="52" height="25" rx="2" fill="#151515"/>
<rect x="731" y="713" width="50" height="24" fill="#333"/>
<rect x="744" y="718.7" width="24" height="13.3" fill="#888"/>
<rect x="791" y="713" width="51.5" height="24" fill="#1f4d20"/>
<polygon points="809.4,718 838,725.2 809.4,732.4" fill="#55c855"/>
<rect x="852" y="713" width="48.5" height="24" fill="#452222"/>
<ellipse cx="877" cy="725.3" rx="11.5" ry="6.7" fill="#dd3333"/>
<polygon points="609.00,723.40 612.80,723.40 620.30,718.30 622.00,719.80 622.00,721.90 619.90,722.90 621.40,723.80 621.40,726.40 619.90,727.30 622.00,728.30 622.00,730.40 620.30,731.90 612.80,726.80 609.00,726.80" fill="#fff"/>
<polygon points="624.10,723.40 627.90,723.40 635.40,718.30 637.10,719.80 637.10,721.90 635.00,722.90 636.50,723.80 636.50,726.40 635.00,727.30 637.10,728.30 637.10,730.40 635.40,731.90 627.90,726.80 624.10,726.80" fill="#fff"/>
<polygon points="690.90,723.40 687.10,723.40 679.60,718.30 677.90,719.80 677.90,721.90 680.00,722.90 678.50,723.80 678.50,726.40 680.00,727.30 677.90,728.30 677.90,730.40 679.60,731.90 687.10,726.80 690.90,726.80" fill="#fff"/>
<polygon points="706.70,723.40 702.90,723.40 695.40,718.30 693.70,719.80 693.70,721.90 695.80,722.90 694.30,723.80 694.30,726.40 695.80,727.30 693.70,728.30 693.70,730.40 695.40,731.90 702.90,726.80 706.70,726.80" fill="#fff"/>
</svg></body></html>
